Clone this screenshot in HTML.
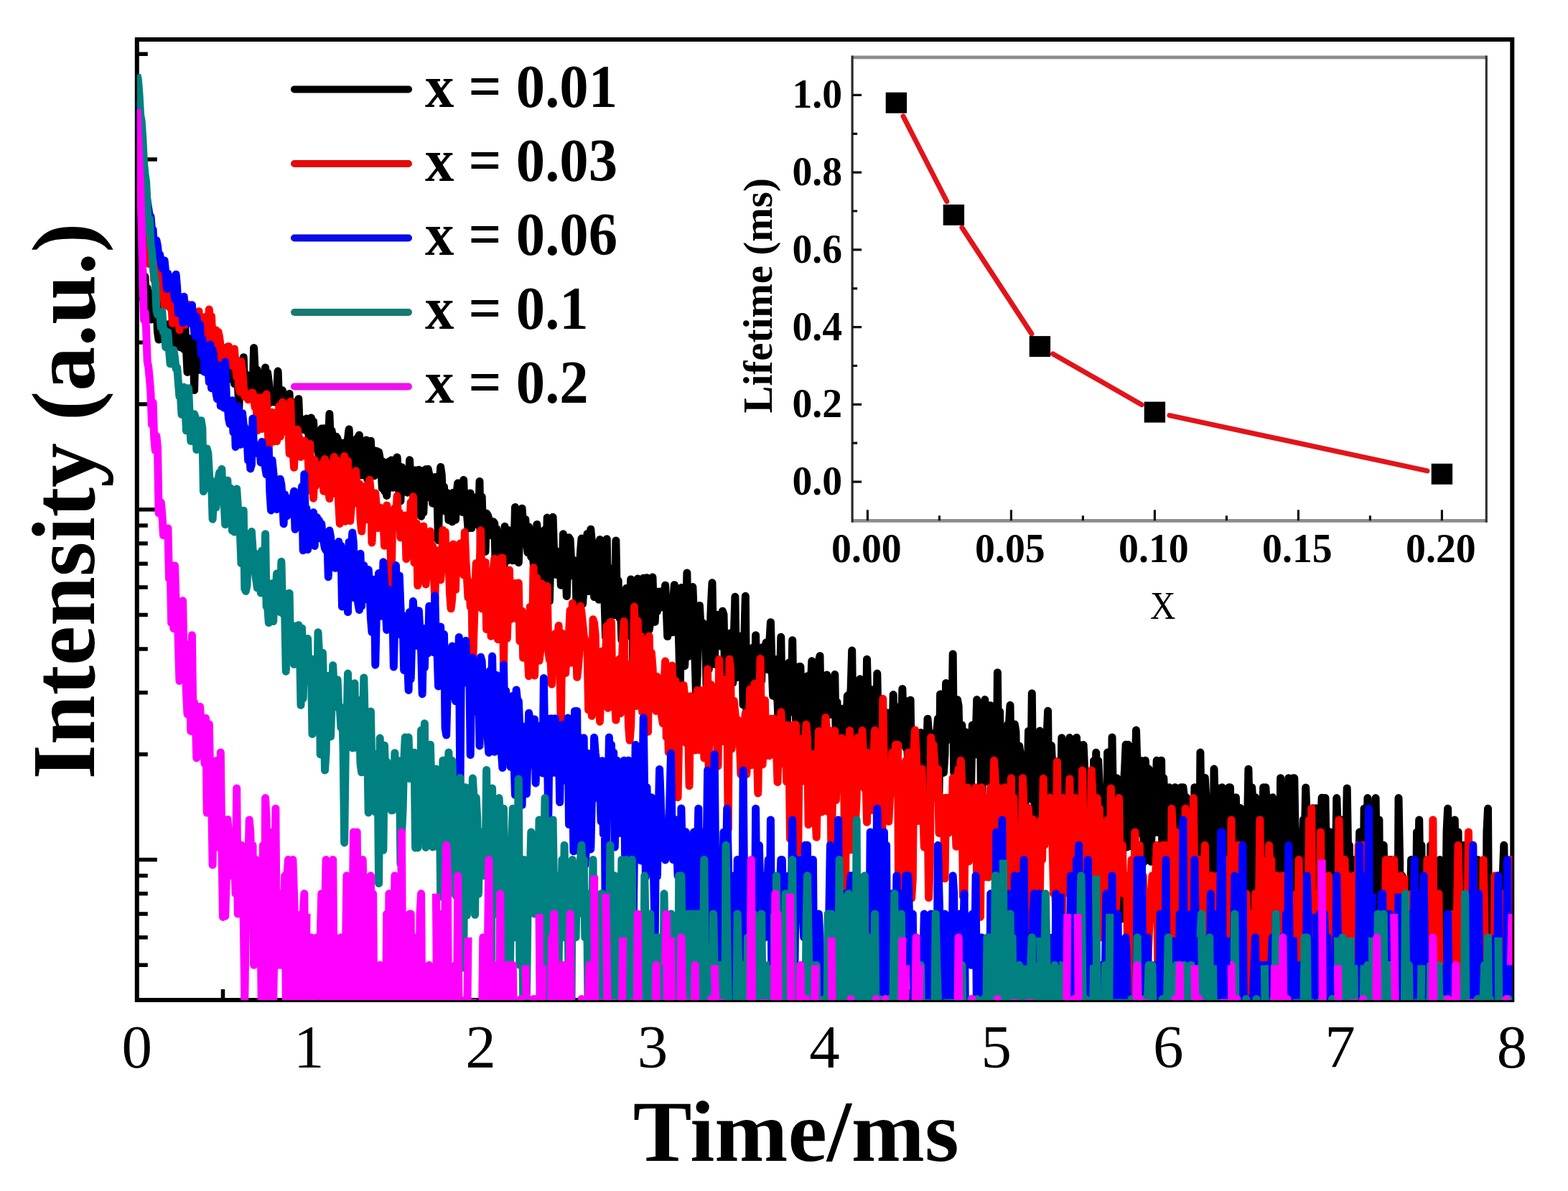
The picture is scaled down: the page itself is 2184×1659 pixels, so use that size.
<!DOCTYPE html>
<html><head><meta charset="utf-8"><title>Decay curves</title>
<style>html,body{margin:0;padding:0;background:#fff;} svg{display:block;}</style>
</head><body>
<svg xmlns="http://www.w3.org/2000/svg" width="2184" height="1659" viewBox="0 0 2184 1659">
<rect x="0" y="0" width="2184" height="1659" fill="#fff"/>
<defs><clipPath id="pc"><rect x="190.8" y="55.0" width="1915.5" height="1338.0"/></clipPath></defs>
<rect x="190.8" y="55.0" width="1915.5" height="1338.0" fill="none" stroke="#000" stroke-width="6"/>
<path d="M190.8 1344.3h15 M190.8 1305.7h15 M190.8 1273.0h15 M190.8 1244.8h15 M190.8 1219.8h15 M190.8 1197.5h28 M190.8 1050.7h15 M190.8 964.8h15 M190.8 903.9h15 M190.8 856.6h15 M190.8 818.0h15 M190.8 785.3h15 M190.8 757.1h15 M190.8 732.1h15 M190.8 709.8h28 M190.8 563.0h15 M190.8 477.1h15 M190.8 416.2h15 M190.8 368.9h15 M190.8 330.3h15 M190.8 297.6h15 M190.8 269.4h15 M190.8 244.4h15 M190.8 222.1h28 M190.8 75.3h15 M310.5 1393.0v-15 M430.2 1393.0v-28 M549.9 1393.0v-15 M669.6 1393.0v-28 M789.3 1393.0v-15 M909.0 1393.0v-28 M1028.7 1393.0v-15 M1148.4 1393.0v-28 M1268.1 1393.0v-15 M1387.8 1393.0v-28 M1507.5 1393.0v-15 M1627.2 1393.0v-28 M1746.9 1393.0v-15 M1866.6 1393.0v-28 M1986.3 1393.0v-15" stroke="#000" stroke-width="5.5" fill="none"/>
<g clip-path="url(#pc)">
<path d="M190.8 243.0L192.4 279.6L194.0 301.4L195.6 360.2L197.2 343.7L198.8 380.1L200.4 397.5L202.0 385.7L203.6 419.3L205.2 401.4L206.8 439.6L208.4 407.8L210.0 445.1L211.5 430.1L213.1 412.9L214.7 421.9L216.3 437.8L217.9 420.6L219.5 462.7L221.1 473.1L222.7 422.9L224.3 450.2L225.9 442.9L227.5 452.5L229.1 450.7L230.7 455.5L232.3 468.0L233.9 452.7L235.5 474.4L237.1 450.7L238.7 454.8L240.3 465.7L241.9 482.1L243.5 483.5L245.1 455.1L246.7 482.2L248.3 470.6L249.9 453.6L251.4 483.9L253.0 471.5L254.6 470.5L256.2 486.6L257.8 455.4L259.4 485.3L261.0 518.4L262.6 475.7L264.2 471.4L265.8 498.2L267.4 491.8L269.0 469.9L270.6 543.5L272.2 478.3L273.8 508.0L275.4 505.1L277.0 489.8L278.6 515.3L280.2 497.6L281.8 516.1L283.4 510.3L285.0 514.9L286.6 491.0L288.2 493.6L289.8 513.7L291.3 511.7L292.9 512.6L294.5 522.2L296.1 509.5L297.7 486.0L299.3 514.1L300.9 497.3L302.5 509.1L304.1 517.7L305.7 497.9L307.3 526.5L308.9 496.8L310.5 518.3L312.1 532.4L313.7 500.1L315.3 518.0L316.9 483.2L318.5 513.0L320.1 527.8L321.7 527.7L323.3 514.6L324.9 506.0L326.5 534.7L328.1 520.3L329.7 533.4L331.2 531.3L332.8 568.2L334.4 526.9L336.0 521.8L337.6 516.7L339.2 497.7L340.8 545.7L342.4 530.6L344.0 522.3L345.6 545.4L347.2 542.1L348.8 537.6L350.4 538.6L352.0 549.5L353.6 484.5L355.2 517.6L356.8 550.2L358.4 515.2L360.0 553.3L361.6 536.4L363.2 527.8L364.8 525.6L366.4 550.3L368.0 557.0L369.6 512.0L371.1 540.8L372.7 519.6L374.3 531.8L375.9 560.8L377.5 547.9L379.1 550.0L380.7 554.4L382.3 560.1L383.9 557.6L385.5 545.8L387.1 517.0L388.7 560.6L390.3 558.0L391.9 546.2L393.5 543.8L395.1 558.7L396.7 560.9L398.3 557.1L399.9 559.3L401.5 564.0L403.1 548.4L404.7 588.1L406.3 567.1L407.9 600.1L409.5 560.4L411.0 568.8L412.6 574.9L414.2 568.3L415.8 555.8L417.4 597.1L419.0 585.7L420.6 584.1L422.2 586.6L423.8 598.9L425.4 588.8L427.0 583.1L428.6 585.5L430.2 609.6L431.8 617.0L433.4 582.0L435.0 622.7L436.6 587.0L438.2 620.7L439.8 603.8L441.4 626.8L443.0 621.8L444.6 641.5L446.2 612.1L447.8 597.1L449.4 639.3L450.9 596.7L452.5 603.9L454.1 649.3L455.7 625.3L457.3 626.7L458.9 576.5L460.5 618.4L462.1 599.9L463.7 613.3L465.3 625.9L466.9 657.1L468.5 608.3L470.1 611.2L471.7 654.9L473.3 694.8L474.9 617.1L476.5 677.7L478.1 616.9L479.7 650.6L481.3 631.3L482.9 634.6L484.5 611.7L486.1 598.0L487.7 635.9L489.3 620.8L490.8 646.2L492.4 651.5L494.0 637.2L495.6 637.0L497.2 610.8L498.8 609.1L500.4 605.9L502.0 645.4L503.6 662.0L505.2 656.2L506.8 614.8L508.4 631.1L510.0 613.0L511.6 667.3L513.2 651.9L514.8 627.3L516.4 614.2L518.0 644.3L519.6 626.9L521.2 662.7L522.8 656.9L524.4 628.3L526.0 649.2L527.6 629.8L529.2 638.3L530.7 649.0L532.3 680.1L533.9 643.3L535.5 684.1L537.1 681.9L538.7 690.4L540.3 669.4L541.9 642.9L543.5 651.9L545.1 640.9L546.7 679.3L548.3 653.5L549.9 646.0L551.5 642.3L553.1 636.9L554.7 658.7L556.3 693.6L557.9 697.9L559.5 650.8L561.1 670.0L562.7 671.9L564.3 684.3L565.9 657.8L567.5 686.2L569.1 681.8L570.6 640.8L572.2 681.5L573.8 677.2L575.4 668.9L577.0 658.9L578.6 654.9L580.2 687.3L581.8 691.6L583.4 654.5L585.0 666.1L586.6 719.3L588.2 656.1L589.8 714.2L591.4 677.9L593.0 653.8L594.6 692.8L596.2 653.5L597.8 661.1L599.4 690.2L601.0 666.9L602.6 701.3L604.2 670.8L605.8 664.6L607.4 678.9L609.0 691.9L610.5 752.4L612.1 674.5L613.7 650.6L615.3 662.1L616.9 705.2L618.5 678.3L620.1 712.3L621.7 712.2L623.3 686.7L624.9 724.5L626.5 724.4L628.1 707.0L629.7 726.8L631.3 686.2L632.9 688.3L634.5 724.0L636.1 686.0L637.7 673.0L639.3 690.2L640.9 679.2L642.5 679.1L644.1 713.4L645.7 668.5L647.3 713.2L648.9 701.1L650.4 715.5L652.0 736.1L653.6 717.7L655.2 686.9L656.8 735.6L658.4 714.6L660.0 704.7L661.6 706.9L663.2 692.7L664.8 729.3L666.4 731.8L668.0 670.4L669.6 778.5L671.2 691.8L672.8 747.7L674.4 730.9L676.0 768.3L677.6 715.0L679.2 717.3L680.8 722.3L682.4 730.0L684.0 738.0L685.6 746.3L687.2 726.8L688.8 729.3L690.3 793.0L691.9 737.1L693.5 751.2L695.1 814.3L696.7 782.1L698.3 765.8L699.9 799.0L701.5 802.5L703.1 733.2L704.7 756.0L706.3 781.3L707.9 738.4L709.5 752.7L711.1 749.7L712.7 767.9L714.3 780.8L715.9 767.7L717.5 706.4L719.1 716.3L720.7 749.1L722.3 783.7L723.9 740.3L725.5 729.1L727.1 708.3L728.7 731.7L730.2 751.5L731.8 723.4L733.4 754.3L735.0 769.7L736.6 733.9L738.2 742.3L739.8 775.9L741.4 763.0L743.0 782.4L744.6 803.5L746.2 789.1L747.8 730.5L749.4 747.4L751.0 788.8L752.6 806.8L754.2 806.6L755.8 774.9L757.4 778.0L759.0 737.9L760.6 787.9L762.2 721.1L763.8 767.5L765.4 837.4L767.0 773.6L768.6 754.5L770.1 720.3L771.7 769.8L773.3 766.4L774.9 800.6L776.5 789.6L778.1 775.7L779.7 769.0L781.3 815.2L782.9 807.2L784.5 743.8L786.1 799.4L787.7 784.9L789.3 830.5L790.9 777.7L792.5 748.8L794.1 751.7L795.7 784.0L797.3 801.9L798.9 780.2L800.5 801.5L802.1 801.4L803.7 880.2L805.3 820.5L806.9 797.2L808.5 769.2L810.0 750.1L811.6 841.3L813.2 815.9L814.8 804.1L816.4 811.8L818.0 743.5L819.6 823.6L821.2 781.9L822.8 737.3L824.4 755.3L826.0 755.2L827.6 831.5L829.2 831.3L830.8 814.7L832.4 818.6L834.0 835.3L835.6 751.4L837.2 826.5L838.8 830.7L840.4 818.1L842.0 834.8L843.6 887.9L845.2 750.7L846.8 847.8L848.4 790.6L849.9 861.8L851.5 829.8L853.1 856.8L854.7 809.1L856.3 856.5L857.9 752.9L859.5 846.9L861.1 808.5L862.7 860.8L864.3 841.9L865.9 891.6L867.5 870.3L869.1 850.6L870.7 836.8L872.3 819.5L873.9 885.4L875.5 827.7L877.1 840.7L878.7 806.9L880.3 827.2L881.9 932.3L883.5 818.5L885.1 831.1L886.7 868.5L888.3 806.0L889.8 883.9L891.4 873.2L893.0 883.6L894.6 843.6L896.2 805.2L897.8 883.1L899.4 843.1L901.0 804.8L902.6 829.4L904.2 877.2L905.8 866.7L907.4 833.4L909.0 804.1L910.6 856.5L912.2 866.3L913.8 833.1L915.4 851.4L917.0 824.2L918.6 846.5L920.2 824.1L921.8 828.3L923.4 832.6L925.0 846.2L926.6 815.3L928.2 846.0L929.7 886.6L931.3 860.3L932.9 881.0L934.5 845.7L936.1 880.8L937.7 836.4L939.3 814.7L940.9 880.6L942.5 864.8L944.1 845.2L945.7 897.2L947.3 963.3L948.9 818.4L950.5 864.4L952.1 849.6L953.7 927.7L955.3 874.5L956.9 797.9L958.5 914.6L960.1 830.8L961.7 896.4L963.3 879.5L964.9 817.6L966.5 858.5L968.1 920.4L969.6 969.9L971.2 940.2L972.8 863.2L974.4 843.6L976.0 873.4L977.6 889.7L979.2 868.0L980.8 873.1L982.4 873.0L984.0 953.8L985.6 883.7L987.2 932.5L988.8 889.1L990.4 842.7L992.0 811.8L993.6 906.4L995.2 925.3L996.8 877.6L998.4 894.3L1000.0 856.6L1001.6 866.7L1003.2 899.9L1004.8 899.8L1006.4 851.3L1008.0 856.2L1009.5 931.2L1011.1 945.0L1012.7 959.6L1014.3 887.5L1015.9 887.4L1017.5 881.7L1019.1 923.8L1020.7 951.5L1022.3 886.9L1023.9 831.3L1025.5 943.9L1027.1 929.8L1028.7 929.7L1030.3 886.3L1031.9 929.5L1033.5 886.1L1035.1 981.8L1036.7 891.6L1038.3 830.3L1039.9 998.8L1041.5 998.6L1043.1 909.1L1044.7 957.0L1046.3 935.1L1047.9 902.6L1049.4 934.9L1051.0 972.1L1052.6 884.7L1054.2 971.9L1055.8 902.0L1057.4 963.6L1059.0 948.4L1060.6 948.2L1062.2 901.5L1063.8 901.4L1065.4 913.6L1067.0 895.1L1068.6 919.7L1070.2 932.9L1071.8 894.6L1073.4 866.7L1075.0 925.6L1076.6 969.3L1078.2 939.0L1079.8 918.5L1081.4 968.7L1083.0 976.6L1084.6 1021.8L1086.2 952.6L1087.8 887.3L1089.3 993.0L1090.9 944.7L1092.5 959.5L1094.1 937.3L1095.7 1020.3L1097.3 983.3L1098.9 923.1L1100.5 982.9L1102.1 991.4L1103.7 891.7L1105.3 982.4L1106.9 943.1L1108.5 999.7L1110.1 1130.2L1111.7 1028.4L1113.3 928.6L1114.9 928.5L1116.5 998.9L1118.1 972.8L1119.7 989.7L1121.3 1038.0L1122.9 998.3L1124.5 941.8L1126.1 972.2L1127.7 980.4L1129.2 956.2L1130.8 920.8L1132.4 997.5L1134.0 1084.2L1135.6 997.3L1137.2 1036.5L1138.8 971.3L1140.4 920.3L1142.0 913.7L1143.6 1015.5L1145.2 996.5L1146.8 979.0L1148.4 1035.5L1150.0 947.4L1151.6 940.1L1153.2 954.7L1154.8 995.8L1156.4 986.9L1158.0 970.0L1159.6 954.3L1161.2 969.8L1162.8 939.5L1164.4 1034.3L1166.0 977.8L1167.6 1045.0L1169.1 986.2L1170.7 1044.9L1172.3 1034.0L1173.9 1023.5L1175.5 1013.5L1177.1 986.0L1178.7 1013.4L1180.3 969.2L1181.9 1044.4L1183.5 969.1L1185.1 961.1L1186.7 906.0L1188.3 1033.3L1189.9 985.6L1191.5 968.9L1193.1 1003.4L1194.7 1055.3L1196.3 1067.1L1197.9 945.8L1199.5 1055.1L1201.1 1032.8L1202.7 1022.4L1204.3 953.0L1205.9 1054.8L1207.5 918.2L1209.0 976.5L1210.6 1092.4L1212.2 1012.2L1213.8 960.4L1215.4 1043.1L1217.0 1066.3L1218.6 984.7L1220.2 1078.7L1221.8 938.1L1223.4 1021.7L1225.0 1042.8L1226.6 1031.9L1228.2 976.0L1229.8 1002.2L1231.4 1120.4L1233.0 1002.1L1234.6 1031.7L1236.2 993.0L1237.8 1042.3L1239.4 992.9L1241.0 1011.4L1242.6 1053.4L1244.2 967.6L1245.8 1021.0L1247.4 984.0L1248.9 1041.9L1250.5 1020.9L1252.1 1031.1L1253.7 1011.0L1255.3 1020.8L1256.9 959.5L1258.5 1031.0L1260.1 975.4L1261.7 1041.7L1263.3 1030.9L1264.9 1064.7L1266.5 992.4L1268.1 975.3L1269.7 1090.3L1271.3 1030.8L1272.9 1090.2L1274.5 1090.2L1276.1 1030.8L1277.7 1090.1L1279.3 1030.7L1280.9 1030.7L1282.5 1020.5L1284.1 1118.8L1285.7 1041.4L1287.3 1052.6L1288.8 1052.6L1290.4 1064.3L1292.0 1001.2L1293.6 1020.4L1295.2 1118.6L1296.8 1076.7L1298.4 1064.2L1300.0 1041.2L1301.6 1041.2L1303.2 1020.2L1304.8 1020.2L1306.4 1001.0L1308.0 1103.6L1309.6 966.9L1311.2 975.0L1312.8 1020.1L1314.4 1076.4L1316.0 1052.2L1317.6 951.5L1319.2 1030.3L1320.8 1020.1L1322.4 1020.0L1324.0 1030.2L1325.6 1030.2L1327.2 910.9L1328.7 1076.2L1330.3 991.8L1331.9 1133.8L1333.5 974.8L1335.1 983.1L1336.7 1051.9L1338.3 1030.1L1339.9 1010.1L1341.5 1133.7L1343.1 1030.0L1344.7 1019.8L1346.3 1089.1L1347.9 1051.8L1349.5 1133.5L1351.1 1117.7L1352.7 1089.0L1354.3 1009.9L1355.9 1019.7L1357.5 1040.5L1359.1 1029.8L1360.7 974.6L1362.3 1051.6L1363.9 1029.8L1365.5 1019.6L1367.1 1168.5L1368.6 1063.3L1370.2 1009.8L1371.8 974.5L1373.4 1019.5L1375.0 1088.6L1376.6 1088.5L1378.2 982.7L1379.8 982.7L1381.4 1009.6L1383.0 991.3L1384.6 1149.5L1386.2 1167.7L1387.8 1116.7L1389.4 936.7L1391.0 1075.0L1392.6 991.1L1394.2 1088.0L1395.8 1087.9L1397.4 1039.7L1399.0 1062.5L1400.6 1167.1L1402.2 1050.7L1403.8 1009.2L1405.4 1009.1L1407.0 982.3L1408.5 1087.5L1410.1 1131.7L1411.7 1074.5L1413.3 1009.0L1414.9 1018.6L1416.5 1101.1L1418.1 1231.8L1419.7 1039.2L1421.3 1050.3L1422.9 1074.2L1424.5 1115.5L1426.1 1074.1L1427.7 1131.1L1429.3 1087.0L1430.9 1100.7L1432.5 1018.3L1434.1 1018.3L1435.7 1100.5L1437.3 965.7L1438.9 1115.1L1440.5 1049.9L1442.1 1230.6L1443.7 1049.8L1445.3 1130.5L1446.9 1073.6L1448.4 1018.1L1450.0 1114.7L1451.6 1061.3L1453.2 1049.6L1454.8 1130.2L1456.4 1146.9L1458.0 1028.0L1459.6 990.3L1461.2 1164.8L1462.8 1073.2L1464.4 1038.4L1466.0 1073.2L1467.6 1099.7L1469.2 1184.1L1470.8 1129.7L1472.4 1060.8L1474.0 1129.6L1475.6 1085.8L1477.2 1129.5L1478.8 1027.7L1480.4 1099.4L1482.0 1113.9L1483.6 1085.7L1485.2 1060.6L1486.8 1072.8L1488.3 1099.2L1489.9 1027.6L1491.5 1085.5L1493.1 1099.0L1494.7 1254.5L1496.3 1048.8L1497.9 1037.9L1499.5 1027.4L1501.1 1085.1L1502.7 1048.7L1504.3 1037.7L1505.9 1145.0L1507.5 1227.2L1509.1 1037.6L1510.7 1072.1L1512.3 1162.6L1513.9 1084.7L1515.5 1282.7L1517.1 1098.2L1518.7 1127.9L1520.3 1181.6L1521.9 1226.2L1523.5 1059.7L1525.1 1127.7L1526.7 1048.3L1528.2 1127.6L1529.8 1059.6L1531.4 1097.8L1533.0 1127.4L1534.6 1281.3L1536.2 1143.7L1537.8 1201.9L1539.4 1180.7L1541.0 1251.2L1542.6 1048.1L1544.2 1180.5L1545.8 1143.5L1547.4 1251.0L1549.0 1026.9L1550.6 1127.0L1552.2 1111.7L1553.8 1127.0L1555.4 1084.0L1557.0 1097.4L1558.6 1143.3L1560.2 1111.6L1561.8 1280.0L1563.4 1201.2L1565.0 1097.3L1566.6 1071.3L1568.1 1037.2L1569.7 1180.0L1571.3 1037.2L1572.9 1083.8L1574.5 1126.7L1576.1 1048.0L1577.7 1179.8L1579.3 1071.2L1580.9 1083.8L1582.5 1017.1L1584.1 1071.2L1585.7 1083.7L1587.3 1160.4L1588.9 1059.2L1590.5 1160.4L1592.1 1126.4L1593.7 1200.4L1595.3 1059.2L1596.9 1083.7L1598.5 1160.3L1600.1 1071.1L1601.7 1097.0L1603.3 1200.2L1604.9 1096.9L1606.5 1083.6L1608.0 1160.1L1609.6 1111.1L1611.2 1059.2L1612.8 1126.2L1614.4 1160.0L1616.0 1111.0L1617.6 1059.2L1619.2 1223.0L1620.8 1083.6L1622.4 1126.1L1624.0 1096.8L1625.6 1126.1L1627.2 1277.9L1628.8 1096.8L1630.4 1142.3L1632.0 1159.8L1633.6 1110.9L1635.2 1126.0L1636.8 1096.8L1638.4 1199.5L1640.0 1178.7L1641.6 1178.6L1643.2 1178.6L1644.8 1096.7L1646.4 1125.9L1647.9 1096.7L1649.5 1110.8L1651.1 1277.2L1652.7 1110.8L1654.3 1178.5L1655.9 1199.3L1657.5 1178.4L1659.1 1178.4L1660.7 1142.0L1662.3 1247.8L1663.9 1096.7L1665.5 1159.4L1667.1 1110.8L1668.7 1110.8L1670.3 1247.7L1671.9 1048.1L1673.5 1178.3L1675.1 1159.3L1676.7 1110.7L1678.3 1083.5L1679.9 1110.7L1681.5 1159.3L1683.1 1199.0L1684.7 1125.7L1686.3 1141.8L1687.8 1178.2L1689.4 1276.4L1691.0 1071.1L1692.6 1141.8L1694.2 1096.7L1695.8 1159.2L1697.4 1198.8L1699.0 1141.8L1700.6 1159.2L1702.2 1096.7L1703.8 1125.7L1705.4 1276.2L1707.0 1178.0L1708.6 1110.7L1710.2 1198.7L1711.8 1096.7L1713.4 1096.7L1715.0 1178.0L1716.6 1247.0L1718.2 1177.9L1719.8 1247.0L1721.4 1110.7L1723.0 1198.6L1724.6 1177.9L1726.2 1246.9L1727.7 1125.6L1729.3 1221.3L1730.9 1159.0L1732.5 1221.3L1734.1 1221.3L1735.7 1177.8L1737.3 1159.0L1738.9 1071.2L1740.5 1141.6L1742.1 1308.9L1743.7 1096.7L1745.3 1125.6L1746.9 1125.6L1748.5 1110.7L1750.1 1141.6L1751.7 1348.1L1753.3 1308.7L1754.9 1125.6L1756.5 1141.6L1758.1 1158.9L1759.7 1096.7L1761.3 1347.9L1762.9 1096.8L1764.5 1125.6L1766.1 1177.6L1767.6 1246.4L1769.2 1275.1L1770.8 1177.6L1772.4 1110.7L1774.0 1125.6L1775.6 1198.1L1777.2 1220.8L1778.8 1177.6L1780.4 1141.6L1782.0 1275.0L1783.6 1083.7L1785.2 1308.1L1786.8 1198.1L1788.4 1198.1L1790.0 1246.1L1791.6 1198.0L1793.2 1158.8L1794.8 1083.8L1796.4 1177.5L1798.0 1177.5L1799.6 1198.0L1801.2 1083.8L1802.8 1083.8L1804.4 1177.5L1806.0 1245.9L1807.5 1307.7L1809.1 1245.9L1810.7 1158.7L1812.3 1245.8L1813.9 1197.9L1815.5 1141.5L1817.1 1177.4L1818.7 1097.0L1820.3 1141.5L1821.9 1177.3L1823.5 1307.1L1825.1 1220.2L1826.7 1453.0L1828.3 1125.7L1829.9 1177.3L1831.5 1245.3L1833.1 1125.8L1834.7 1220.1L1836.3 1245.1L1837.9 1158.7L1839.5 1158.7L1841.1 1111.3L1842.7 1126.0L1844.3 1141.8L1845.9 1111.4L1847.4 1197.5L1849.0 1219.9L1850.6 1158.8L1852.2 1158.8L1853.8 1244.8L1855.4 1197.5L1857.0 1273.0L1858.6 1197.5L1860.2 1219.8L1861.8 1111.6L1863.4 1158.9L1865.0 1158.9L1866.6 1305.7L1868.2 1141.9L1869.8 1244.8L1871.4 1197.5L1873.0 1141.9L1874.6 1197.5L1876.2 1098.0L1877.8 1197.5L1879.4 1177.3L1881.0 1305.7L1882.6 1197.5L1884.2 1219.8L1885.8 1391.6L1887.3 1197.5L1888.9 1197.5L1890.5 1273.0L1892.1 1244.8L1893.7 1158.9L1895.3 1244.8L1896.9 1305.7L1898.5 1305.7L1900.1 1126.2L1901.7 1219.8L1903.3 1244.8L1904.9 1111.6L1906.5 1177.3L1908.1 1273.0L1909.7 1273.0L1911.3 1158.9L1912.9 1273.0L1914.5 1452.5L1916.1 1111.6L1917.7 1219.8L1919.3 1344.3L1920.9 1141.9L1922.5 1344.3L1924.1 1391.6L1925.7 1244.8L1927.2 1177.3L1928.8 1273.0L1930.4 1344.3L1932.0 1305.7L1933.6 1305.7L1935.2 1344.3L1936.8 1197.5L1938.4 1391.6L1940.0 1244.8L1941.6 1273.0L1943.2 1453.0L1944.8 1344.3L1946.4 1391.6L1948.0 1111.6L1949.6 1197.5L1951.2 1453.0L1952.8 1219.8L1954.4 1244.8L1956.0 1273.0L1957.6 1305.7L1959.2 1273.0L1960.8 1344.3L1962.4 1344.3L1964.0 1273.0L1965.6 1197.5L1967.1 1273.0L1968.7 1273.0L1970.3 1344.3L1971.9 1305.7L1973.5 1158.9L1975.1 1219.8L1976.7 1141.9L1978.3 1244.8L1979.9 1177.3L1981.5 1391.6L1983.1 1197.5L1984.7 1305.7L1986.3 1453.0L1987.9 1219.8L1989.5 1305.7L1991.1 1453.0L1992.7 1177.3L1994.3 1177.3L1995.9 1453.0L1997.5 1305.7L1999.1 1244.8L2000.7 1344.3L2002.3 1273.0L2003.9 1344.3L2005.5 1197.5L2007.0 1219.8L2008.6 1273.0L2010.2 1344.3L2011.8 1344.3L2013.4 1305.7L2015.0 1158.9L2016.6 1126.2L2018.2 1344.3L2019.8 1244.8L2021.4 1197.5L2023.0 1452.5L2024.6 1452.5L2026.2 1141.9L2027.8 1219.8L2029.4 1219.8L2031.0 1158.9L2032.6 1305.7L2034.2 1305.7L2035.8 1273.0L2037.4 1305.7L2039.0 1177.3L2040.6 1244.8L2042.2 1305.7L2043.8 1177.3L2045.4 1391.6L2046.9 1452.5L2048.5 1305.7L2050.1 1177.3L2051.7 1344.3L2053.3 1219.8L2054.9 1273.0L2056.5 1452.5L2058.1 1197.5L2059.7 1453.0L2061.3 1453.0L2062.9 1305.7L2064.5 1244.8L2066.1 1453.0L2067.7 1453.0L2069.3 1344.3L2070.9 1158.9L2072.5 1126.2L2074.1 1391.6L2075.7 1305.7L2077.3 1273.0L2078.9 1305.7L2080.5 1453.0L2082.1 1452.5L2083.7 1391.6L2085.3 1244.8L2086.8 1391.6L2088.4 1219.8L2090.0 1244.8L2091.6 1344.3L2093.2 1219.8L2094.8 1177.3L2096.4 1273.0L2098.0 1344.3L2099.6 1453.0L2101.2 1244.8L2102.8 1244.8L2104.4 1305.7L2106.0 1273.0" stroke="#000000" stroke-width="11" fill="none" stroke-linejoin="round" stroke-linecap="butt"/>
<path d="M190.8 254.4L192.4 283.5L194.0 270.7L195.6 273.5L197.2 283.6L198.8 311.8L200.4 334.5L202.0 324.6L203.6 333.8L205.2 337.6L206.8 359.4L208.4 367.6L210.0 352.9L211.5 362.3L213.1 359.2L214.7 390.0L216.3 370.4L217.9 391.6L219.5 377.4L221.1 414.4L222.7 376.9L224.3 410.4L225.9 405.2L227.5 387.4L229.1 425.9L230.7 406.0L232.3 401.4L233.9 423.1L235.5 411.5L237.1 429.0L238.7 419.6L240.3 450.3L241.9 429.0L243.5 407.8L245.1 435.4L246.7 442.7L248.3 431.8L249.9 459.6L251.4 444.4L253.0 440.2L254.6 449.1L256.2 429.9L257.8 452.4L259.4 448.7L261.0 423.7L262.6 438.1L264.2 439.4L265.8 448.3L267.4 429.8L269.0 438.3L270.6 441.6L272.2 441.5L273.8 465.3L275.4 451.9L277.0 433.7L278.6 461.1L280.2 445.7L281.8 449.0L283.4 461.9L285.0 467.0L286.6 441.2L288.2 485.8L289.8 468.6L291.3 431.0L292.9 462.8L294.5 440.7L296.1 473.2L297.7 483.5L299.3 484.9L300.9 460.0L302.5 479.5L304.1 462.6L305.7 470.2L307.3 483.7L308.9 501.8L310.5 511.6L312.1 498.6L313.7 487.0L315.3 498.1L316.9 487.2L318.5 482.5L320.1 508.6L321.7 509.1L323.3 498.4L324.9 491.7L326.5 486.0L328.1 509.9L329.7 525.2L331.2 502.4L332.8 539.9L334.4 546.0L336.0 503.8L337.6 516.8L339.2 537.0L340.8 552.2L342.4 548.3L344.0 552.5L345.6 556.7L347.2 555.1L348.8 555.8L350.4 547.3L352.0 546.9L353.6 555.7L355.2 567.4L356.8 553.7L358.4 599.8L360.0 556.4L361.6 563.5L363.2 553.7L364.8 597.4L366.4 573.0L368.0 595.7L369.6 560.2L371.1 549.3L372.7 588.3L374.3 625.0L375.9 583.9L377.5 601.9L379.1 574.3L380.7 615.0L382.3 584.6L383.9 577.8L385.5 614.5L387.1 602.4L388.7 565.7L390.3 608.0L391.9 586.4L393.5 560.3L395.1 593.0L396.7 571.3L398.3 581.7L399.9 602.6L401.5 580.0L403.1 631.9L404.7 559.2L406.3 618.4L407.9 624.4L409.5 651.3L411.0 612.5L412.6 609.0L414.2 598.2L415.8 606.7L417.4 612.4L419.0 636.5L420.6 624.3L422.2 615.9L423.8 613.9L425.4 629.7L427.0 622.7L428.6 619.0L430.2 664.6L431.8 618.2L433.4 684.1L435.0 651.9L436.6 694.2L438.2 640.6L439.8 676.8L441.4 670.6L443.0 664.5L444.6 649.1L446.2 650.8L447.8 654.4L449.4 645.0L450.9 684.3L452.5 639.4L454.1 667.5L455.7 677.6L457.3 679.5L458.9 694.5L460.5 645.9L462.1 687.7L463.7 687.5L465.3 636.6L466.9 652.8L468.5 649.0L470.1 641.5L471.7 700.3L473.3 729.4L474.9 684.4L476.5 650.2L478.1 663.5L479.7 635.4L481.3 726.2L482.9 649.6L484.5 642.1L486.1 699.1L487.7 725.6L489.3 705.8L490.8 685.2L492.4 687.3L494.0 700.7L495.6 656.1L497.2 680.4L498.8 682.4L500.4 673.8L502.0 721.8L503.6 740.1L505.2 716.5L506.8 701.9L508.4 677.3L510.0 723.7L511.6 692.3L513.2 679.0L514.8 668.4L516.4 685.2L518.0 755.9L519.6 715.3L521.2 687.0L522.8 686.9L524.4 707.5L526.0 735.5L527.6 712.1L529.2 707.1L530.7 735.1L532.3 711.7L533.9 721.6L535.5 760.3L537.1 742.8L538.7 703.9L540.3 721.0L541.9 710.9L543.5 736.6L545.1 813.1L546.7 717.9L548.3 712.8L549.9 707.6L551.5 727.7L553.1 690.7L554.7 735.3L556.3 714.1L557.9 748.9L559.5 737.4L561.1 734.4L562.7 731.4L564.3 718.0L565.9 778.6L567.5 741.8L569.1 759.2L570.6 741.3L572.2 699.5L573.8 709.1L575.4 692.0L577.0 783.7L578.6 767.1L580.2 728.9L581.8 815.5L583.4 736.6L585.0 796.4L586.6 747.6L588.2 747.4L589.8 732.9L591.4 774.9L593.0 813.9L594.6 795.0L596.2 761.4L597.8 780.6L599.4 740.0L601.0 797.7L602.6 760.6L604.2 793.8L605.8 836.7L607.4 766.5L609.0 772.8L610.5 804.2L612.1 782.6L613.7 807.7L615.3 785.7L616.9 738.3L618.5 765.4L620.1 740.9L621.7 788.7L623.3 785.0L624.9 778.0L626.5 826.3L628.1 847.8L629.7 834.4L631.3 757.9L632.9 817.6L634.5 821.5L636.1 763.8L637.7 776.8L639.3 783.5L640.9 757.0L642.5 776.4L644.1 763.0L645.7 801.0L647.3 741.3L648.9 782.6L650.4 804.3L652.0 832.4L653.6 811.7L655.2 845.2L656.8 811.3L658.4 930.4L660.0 878.4L661.6 827.0L663.2 784.6L664.8 810.4L666.4 810.3L668.0 794.8L669.6 738.8L671.2 847.9L672.8 790.6L674.4 790.5L676.0 783.1L677.6 876.5L679.2 804.9L680.8 876.1L682.4 800.7L684.0 886.3L685.6 875.6L687.2 792.7L688.8 778.2L690.3 819.6L691.9 869.7L693.5 890.7L695.1 874.5L696.7 859.2L698.3 777.1L699.9 776.9L701.5 932.0L703.1 810.1L704.7 863.3L706.3 889.3L707.9 843.8L709.5 793.9L711.1 862.6L712.7 843.3L714.3 825.4L715.9 812.7L717.5 812.6L719.1 861.7L720.7 833.4L722.3 812.1L723.9 893.0L725.5 861.1L727.1 851.1L728.7 916.3L730.2 881.3L731.8 886.6L733.4 855.3L735.0 909.5L736.6 941.8L738.2 845.2L739.8 874.9L741.4 891.2L743.0 790.4L744.6 941.0L746.2 879.6L747.8 805.3L749.4 826.0L751.0 920.3L752.6 907.6L754.2 812.8L755.8 878.6L757.4 884.0L759.0 901.1L760.6 852.6L762.2 816.4L763.8 906.7L765.4 919.1L767.0 919.0L768.6 953.2L770.1 900.2L771.7 925.1L773.3 882.8L774.9 931.6L776.5 893.9L778.1 871.6L779.7 924.5L781.3 1010.4L782.9 882.1L784.5 905.2L786.1 917.6L787.7 937.5L789.3 911.0L790.9 904.7L792.5 881.4L794.1 850.1L795.7 923.3L797.3 840.3L798.9 898.1L800.5 892.1L802.1 864.6L803.7 943.3L805.3 929.3L806.9 909.6L808.5 844.2L810.0 853.9L811.6 869.1L813.2 885.4L814.8 891.0L816.4 902.7L818.0 896.6L819.6 988.9L821.2 956.4L822.8 927.7L824.4 997.3L826.0 862.8L827.6 867.9L829.2 884.2L830.8 955.5L832.4 913.8L834.0 933.6L835.6 1005.2L837.2 933.3L838.8 907.0L840.4 954.6L842.0 978.2L843.6 912.9L845.2 872.1L846.8 986.3L848.4 882.8L849.9 866.5L851.5 866.4L853.1 977.2L854.7 931.9L856.3 976.9L857.9 1003.1L859.5 985.2L861.1 938.5L862.7 918.1L864.3 993.6L865.9 931.3L867.5 893.2L869.1 865.6L870.7 967.9L872.3 924.2L873.9 944.9L875.5 1011.3L877.1 1031.2L878.7 1011.1L880.3 944.6L881.9 975.4L883.5 845.1L885.1 937.2L886.7 983.5L888.3 864.8L889.8 966.9L891.4 886.4L893.0 886.4L894.6 991.7L896.2 903.9L897.8 936.6L899.4 951.0L901.0 1009.7L902.6 1019.3L904.2 886.0L905.8 950.6L907.4 909.6L909.0 929.1L910.6 973.7L912.2 942.8L913.8 990.4L915.4 942.6L917.0 973.1L918.6 981.3L920.2 981.1L921.8 998.5L923.4 1007.7L925.0 956.6L926.6 921.1L928.2 1026.9L929.7 997.8L931.3 1048.1L932.9 963.7L934.5 997.3L936.1 927.1L937.7 1058.9L939.3 1025.8L940.9 947.9L942.5 987.8L944.1 1110.7L945.7 1025.2L947.3 954.9L948.9 1005.3L950.5 987.1L952.1 954.6L953.7 970.1L955.3 1034.7L956.9 1004.7L958.5 1004.5L960.1 1094.7L961.7 969.7L963.3 1023.9L964.9 977.9L966.5 1023.8L968.1 1045.0L969.6 1023.7L971.2 961.6L972.8 1013.7L974.4 1044.8L976.0 961.4L977.6 1044.7L979.2 961.4L980.8 1056.0L982.4 1013.4L984.0 1013.3L985.6 932.0L987.2 1080.3L988.8 1003.7L990.4 953.5L992.0 1033.4L993.6 994.4L995.2 1022.9L996.8 1012.9L998.4 994.3L1000.0 1067.2L1001.6 918.4L1003.2 994.1L1004.8 1032.9L1006.4 945.7L1008.0 985.2L1009.5 1022.5L1011.1 1012.5L1012.7 993.9L1014.3 1154.9L1015.9 918.2L1017.5 931.5L1019.1 1043.3L1020.7 1022.1L1022.3 976.4L1023.9 993.6L1025.5 1022.0L1027.1 1002.6L1028.7 1032.2L1030.3 1032.2L1031.9 1078.7L1033.5 1042.9L1035.1 1032.0L1036.7 1011.8L1038.3 993.3L1039.9 1078.4L1041.5 1021.6L1043.1 1011.7L1044.7 960.0L1046.3 1065.7L1047.9 1031.7L1049.4 967.7L1051.0 952.3L1052.6 1031.5L1054.2 1042.2L1055.8 1104.9L1057.4 1011.2L1059.0 917.6L1060.6 1020.9L1062.2 1064.9L1063.8 992.5L1065.4 975.4L1067.0 1052.9L1068.6 1010.8L1070.2 1020.6L1071.8 1052.7L1073.4 1001.3L1075.0 1020.4L1076.6 1041.3L1078.2 1001.1L1079.8 1030.4L1081.4 1041.1L1083.0 1089.5L1084.6 1030.3L1086.2 1052.1L1087.8 991.8L1089.3 1019.9L1090.9 1063.7L1092.5 1010.0L1094.1 1029.9L1095.7 1088.9L1097.3 1009.9L1098.9 1040.4L1100.5 1168.4L1102.1 1040.3L1103.7 1019.4L1105.3 1009.7L1106.9 1075.4L1108.5 1009.6L1110.1 1187.7L1111.7 1187.6L1113.3 1029.3L1114.9 1029.3L1116.5 1039.8L1118.1 1074.9L1119.7 1087.9L1121.3 1039.7L1122.9 1009.2L1124.5 1029.0L1126.1 1148.7L1127.7 1062.3L1129.2 1074.5L1130.8 1101.2L1132.4 1050.4L1134.0 1087.3L1135.6 1131.4L1137.2 1166.3L1138.8 1087.1L1140.4 1018.5L1142.0 1087.0L1143.6 1050.1L1145.2 1130.9L1146.8 1100.6L1148.4 1028.4L1150.0 999.4L1151.6 1018.2L1153.2 1130.6L1154.8 1038.8L1156.4 1018.1L1158.0 1206.5L1159.6 1100.1L1161.2 1038.6L1162.8 1018.0L1164.4 1114.6L1166.0 1061.1L1167.6 1099.9L1169.1 1049.5L1170.7 1086.1L1172.3 1027.9L1173.9 1060.9L1175.5 1038.3L1177.1 1320.6L1178.7 1049.3L1180.3 1073.0L1181.9 1085.8L1183.5 1017.7L1185.1 1183.7L1186.7 1129.3L1188.3 1145.9L1189.9 1113.7L1191.5 1145.8L1193.1 1113.6L1194.7 1027.5L1196.3 1027.5L1197.9 1060.4L1199.5 1048.9L1201.1 1017.5L1202.7 1060.3L1204.3 1098.8L1205.9 1085.2L1207.5 1145.3L1209.0 1048.7L1210.6 1098.6L1212.2 1085.0L1213.8 1128.5L1215.4 1072.2L1217.0 1048.6L1218.6 1017.3L1220.2 1060.0L1221.8 1182.1L1223.4 1072.0L1225.0 1098.3L1226.6 1037.6L1228.2 1282.7L1229.8 973.3L1231.4 1071.9L1233.0 1112.5L1234.6 1071.8L1236.2 1127.8L1237.8 1144.3L1239.4 1112.4L1241.0 1098.0L1242.6 1048.3L1244.2 1084.4L1245.8 1071.7L1247.4 1037.4L1248.9 1071.6L1250.5 1037.3L1252.1 1356.2L1253.7 1084.3L1255.3 1127.4L1256.9 1112.0L1258.5 1097.7L1260.1 1112.0L1261.7 1059.5L1263.3 1281.0L1264.9 1048.1L1266.5 1084.1L1268.1 1111.9L1269.7 1251.2L1271.3 1225.0L1272.9 1048.1L1274.5 1017.1L1276.1 1048.1L1277.7 1084.0L1279.3 1143.4L1280.9 1084.0L1282.5 1084.0L1284.1 1071.3L1285.7 1126.9L1287.3 1180.2L1288.8 1143.3L1290.4 1126.8L1292.0 1126.8L1293.6 1250.5L1295.2 1201.1L1296.8 1026.9L1298.4 1111.5L1300.0 1037.2L1301.6 1059.3L1303.2 1111.4L1304.8 1111.4L1306.4 1071.2L1308.0 1160.6L1309.6 1126.6L1311.2 1142.9L1312.8 1111.3L1314.4 1126.5L1316.0 1223.8L1317.6 1111.3L1319.2 1111.3L1320.8 1160.4L1322.4 1142.7L1324.0 1111.2L1325.6 1142.7L1327.2 1083.7L1328.7 1083.7L1330.3 1126.3L1331.9 1179.3L1333.5 1083.6L1335.1 1071.1L1336.7 1142.6L1338.3 1059.2L1339.9 1096.9L1341.5 1249.1L1343.1 1249.0L1344.7 1111.1L1346.3 1142.4L1347.9 1096.9L1349.5 1199.9L1351.1 1126.1L1352.7 1126.1L1354.3 1111.0L1355.9 1142.3L1357.5 1178.8L1359.1 1096.8L1360.7 1222.6L1362.3 1178.6L1363.9 1110.8L1365.5 1277.3L1367.1 1096.7L1368.6 1222.3L1370.2 1222.2L1371.8 1110.8L1373.4 1142.0L1375.0 1159.4L1376.6 1222.0L1378.2 1141.9L1379.8 1096.7L1381.4 1159.2L1383.0 1125.7L1384.6 1059.3L1386.2 1083.5L1387.8 1309.6L1389.4 1096.7L1391.0 1221.5L1392.6 1125.6L1394.2 1177.9L1395.8 1198.5L1397.4 1177.8L1399.0 1096.7L1400.6 1246.7L1402.2 1141.6L1403.8 1096.7L1405.4 1198.3L1407.0 1198.3L1408.5 1083.7L1410.1 1246.4L1411.7 1110.7L1413.3 1177.6L1414.9 1220.8L1416.5 1177.6L1418.1 1158.8L1419.7 1308.0L1421.3 1220.7L1422.9 1220.7L1424.5 1083.8L1426.1 1125.6L1427.7 1220.5L1429.3 1197.9L1430.9 1177.4L1432.5 1125.6L1434.1 1220.4L1435.7 1346.4L1437.3 1197.8L1438.9 1141.5L1440.5 1307.1L1442.1 1346.1L1443.7 1220.3L1445.3 1345.9L1446.9 1158.7L1448.4 1245.4L1450.0 1141.6L1451.6 1197.6L1453.2 1084.3L1454.8 1177.3L1456.4 1125.8L1458.0 1158.7L1459.6 1158.7L1461.2 1158.7L1462.8 1111.1L1464.4 1158.7L1466.0 1177.3L1467.6 1245.1L1469.2 1220.0L1470.8 1273.5L1472.4 1060.9L1474.0 1197.5L1475.6 1177.3L1477.2 1141.7L1478.8 1345.0L1480.4 1111.3L1482.0 1245.0L1483.6 1219.9L1485.2 1219.9L1486.8 1197.5L1488.3 1141.8L1489.9 1084.9L1491.5 1244.9L1493.1 1141.8L1494.7 1344.5L1496.3 1141.9L1497.9 1111.5L1499.5 1126.2L1501.1 1126.2L1502.7 1391.6L1504.3 1177.3L1505.9 1305.7L1507.5 1073.0L1509.1 1158.9L1510.7 1158.9L1512.3 1244.8L1513.9 1197.5L1515.5 1273.0L1517.1 1177.3L1518.7 1197.5L1520.3 1073.0L1521.9 1111.6L1523.5 1273.0L1525.1 1111.6L1526.7 1305.7L1528.2 1111.6L1529.8 1244.8L1531.4 1126.2L1533.0 1305.7L1534.6 1219.8L1536.2 1158.9L1537.8 1177.3L1539.4 1197.5L1541.0 1305.7L1542.6 1141.9L1544.2 1244.8L1545.8 1344.3L1547.4 1098.0L1549.0 1273.0L1550.6 1219.8L1552.2 1244.8L1553.8 1273.0L1555.4 1244.8L1557.0 1158.9L1558.6 1111.6L1560.2 1219.8L1561.8 1177.3L1563.4 1177.3L1565.0 1244.8L1566.6 1219.8L1568.1 1219.8L1569.7 1219.8L1571.3 1452.5L1572.9 1305.7L1574.5 1273.0L1576.1 1197.5L1577.7 1219.8L1579.3 1273.0L1580.9 1158.9L1582.5 1219.8L1584.1 1177.3L1585.7 1177.3L1587.3 1177.3L1588.9 1344.3L1590.5 1344.3L1592.1 1219.8L1593.7 1273.0L1595.3 1305.7L1596.9 1273.0L1598.5 1344.3L1600.1 1305.7L1601.7 1273.0L1603.3 1244.8L1604.9 1219.8L1606.5 1219.8L1608.0 1244.8L1609.6 1219.8L1611.2 1177.3L1612.8 1344.3L1614.4 1273.0L1616.0 1244.8L1617.6 1273.0L1619.2 1177.3L1620.8 1177.3L1622.4 1244.8L1624.0 1177.3L1625.6 1273.0L1627.2 1273.0L1628.8 1219.8L1630.4 1344.3L1632.0 1126.2L1633.6 1158.9L1635.2 1305.7L1636.8 1197.5L1638.4 1158.9L1640.0 1305.7L1641.6 1453.0L1643.2 1391.6L1644.8 1219.8L1646.4 1244.8L1647.9 1391.6L1649.5 1344.3L1651.1 1126.2L1652.7 1305.7L1654.3 1141.9L1655.9 1141.9L1657.5 1219.8L1659.1 1244.8L1660.7 1344.3L1662.3 1111.6L1663.9 1244.8L1665.5 1197.5L1667.1 1344.3L1668.7 1244.8L1670.3 1219.8L1671.9 1197.5L1673.5 1391.6L1675.1 1244.8L1676.7 1305.7L1678.3 1177.3L1679.9 1273.0L1681.5 1344.3L1683.1 1305.7L1684.7 1273.0L1686.3 1244.8L1687.8 1219.8L1689.4 1244.8L1691.0 1273.0L1692.6 1244.8L1694.2 1391.6L1695.8 1219.8L1697.4 1273.0L1699.0 1344.3L1700.6 1273.0L1702.2 1391.6L1703.8 1305.7L1705.4 1244.8L1707.0 1219.8L1708.6 1197.5L1710.2 1391.6L1711.8 1391.6L1713.4 1453.0L1715.0 1141.9L1716.6 1391.6L1718.2 1244.8L1719.8 1219.8L1721.4 1344.3L1723.0 1219.8L1724.6 1177.3L1726.2 1197.5L1727.7 1391.6L1729.3 1305.7L1730.9 1391.6L1732.5 1391.6L1734.1 1244.8L1735.7 1244.8L1737.3 1305.7L1738.9 1273.0L1740.5 1452.5L1742.1 1344.3L1743.7 1273.0L1745.3 1273.0L1746.9 1391.6L1748.5 1244.8L1750.1 1305.7L1751.7 1344.3L1753.3 1273.0L1754.9 1141.9L1756.5 1344.3L1758.1 1197.5L1759.7 1452.5L1761.3 1453.0L1762.9 1344.3L1764.5 1244.8L1766.1 1453.0L1767.6 1177.3L1769.2 1244.8L1770.8 1197.5L1772.4 1391.6L1774.0 1305.7L1775.6 1219.8L1777.2 1305.7L1778.8 1219.8L1780.4 1344.3L1782.0 1391.6L1783.6 1273.0L1785.2 1305.7L1786.8 1219.8L1788.4 1305.7L1790.0 1344.3L1791.6 1344.3L1793.2 1391.6L1794.8 1197.5L1796.4 1452.5L1798.0 1273.0L1799.6 1344.3L1801.2 1305.7L1802.8 1344.3L1804.4 1305.7L1806.0 1244.8L1807.5 1391.6L1809.1 1197.5L1810.7 1344.3L1812.3 1244.8L1813.9 1273.0L1815.5 1453.0L1817.1 1273.0L1818.7 1344.3L1820.3 1273.0L1821.9 1305.7L1823.5 1141.9L1825.1 1453.0L1826.7 1126.2L1828.3 1391.6L1829.9 1391.6L1831.5 1244.8L1833.1 1344.3L1834.7 1452.5L1836.3 1305.7L1837.9 1452.5L1839.5 1158.9L1841.1 1391.6L1842.7 1344.3L1844.3 1452.5L1845.9 1244.8L1847.4 1391.6L1849.0 1244.8L1850.6 1219.8L1852.2 1273.0L1853.8 1344.3L1855.4 1305.7L1857.0 1391.6L1858.6 1452.5L1860.2 1344.3L1861.8 1273.0L1863.4 1344.3L1865.0 1141.9L1866.6 1219.8L1868.2 1452.5L1869.8 1391.6L1871.4 1391.6L1873.0 1197.5L1874.6 1305.7L1876.2 1344.3L1877.8 1219.8L1879.4 1452.5L1881.0 1244.8L1882.6 1273.0L1884.2 1305.7L1885.8 1219.8L1887.3 1344.3L1888.9 1219.8L1890.5 1344.3L1892.1 1177.3L1893.7 1197.5L1895.3 1177.3L1896.9 1197.5L1898.5 1177.3L1900.1 1391.6L1901.7 1453.0L1903.3 1273.0L1904.9 1391.6L1906.5 1344.3L1908.1 1344.3L1909.7 1452.5L1911.3 1344.3L1912.9 1273.0L1914.5 1391.6L1916.1 1305.7L1917.7 1344.3L1919.3 1391.6L1920.9 1391.6L1922.5 1453.0L1924.1 1391.6L1925.7 1452.5L1927.2 1453.0L1928.8 1305.7L1930.4 1197.5L1932.0 1453.0L1933.6 1197.5L1935.2 1453.0L1936.8 1452.5L1938.4 1452.5L1940.0 1391.6L1941.6 1197.5L1943.2 1344.3L1944.8 1391.6L1946.4 1452.5L1948.0 1391.6L1949.6 1344.3L1951.2 1219.8L1952.8 1305.7L1954.4 1344.3L1956.0 1219.8M1959.2 1391.6L1960.8 1344.3L1962.4 1273.0L1964.0 1391.6L1965.6 1244.8L1967.1 1391.6L1968.7 1344.3L1970.3 1453.0L1971.9 1244.8L1973.5 1344.3L1975.1 1453.0L1976.7 1452.5L1978.3 1452.5L1979.9 1391.6L1981.5 1344.3L1983.1 1305.7L1984.7 1244.8L1986.3 1344.3L1987.9 1197.5L1989.5 1344.3L1991.1 1391.6L1992.7 1391.6L1994.3 1453.0L1995.9 1141.9L1997.5 1453.0L1999.1 1453.0L2000.7 1305.7L2002.3 1344.3L2003.9 1244.8L2005.5 1453.0L2007.0 1344.3L2008.6 1452.5L2010.2 1453.0L2011.8 1391.6L2013.4 1453.0L2015.0 1452.5L2016.6 1391.6L2018.2 1453.0L2019.8 1344.3L2021.4 1391.6L2023.0 1452.5L2024.6 1273.0L2026.2 1453.0L2027.8 1452.5L2029.4 1273.0L2031.0 1177.3L2032.6 1244.8L2034.2 1391.6L2035.8 1305.7L2037.4 1344.3L2039.0 1453.0L2040.6 1344.3L2042.2 1244.8L2043.8 1305.7L2045.4 1158.9L2046.9 1344.3L2048.5 1453.0L2050.1 1219.8L2051.7 1177.3L2053.3 1344.3L2054.9 1273.0L2056.5 1344.3L2058.1 1244.8L2059.7 1391.6L2061.3 1452.5L2062.9 1452.5L2064.5 1453.0L2066.1 1197.5L2067.7 1273.0L2069.3 1452.5L2070.9 1344.3L2072.5 1391.6L2074.1 1453.0L2075.7 1305.7L2077.3 1452.5L2078.9 1453.0L2080.5 1452.5L2082.1 1219.8L2083.7 1391.6L2085.3 1219.8L2086.8 1452.5L2088.4 1452.5L2090.0 1244.8L2091.6 1244.8L2093.2 1453.0L2094.8 1391.6L2096.4 1453.0L2098.0 1452.5L2099.6 1344.3L2101.2 1344.3L2102.8 1453.0L2104.4 1197.5L2106.0 1453.0" stroke="#ff0000" stroke-width="11" fill="none" stroke-linejoin="round" stroke-linecap="butt"/>
<path d="M190.8 142.4L192.4 157.8L194.0 178.2L195.6 185.9L197.2 194.8L198.8 220.0L200.4 244.9L202.0 266.3L203.6 265.7L205.2 281.2L206.8 291.0L208.4 301.6L210.0 301.6L211.5 320.5L213.1 319.8L214.7 353.2L216.3 334.1L217.9 334.7L219.5 342.6L221.1 358.0L222.7 354.5L224.3 366.2L225.9 373.5L227.5 375.1L229.1 362.9L230.7 379.2L232.3 402.3L233.9 381.3L235.5 393.6L237.1 391.0L238.7 394.9L240.3 401.6L241.9 404.6L243.5 417.1L245.1 382.2L246.7 400.9L248.3 436.5L249.9 420.1L251.4 426.5L253.0 414.2L254.6 449.6L256.2 413.3L257.8 438.3L259.4 444.7L261.0 442.1L262.6 441.6L264.2 450.2L265.8 431.9L267.4 424.8L269.0 441.0L270.6 462.9L272.2 468.6L273.8 441.6L275.4 458.4L277.0 461.7L278.6 452.3L280.2 493.2L281.8 471.9L283.4 482.8L285.0 518.3L286.6 481.9L288.2 496.9L289.8 507.3L291.3 532.3L292.9 480.0L294.5 540.8L296.1 487.5L297.7 501.2L299.3 522.5L300.9 547.2L302.5 555.6L304.1 508.8L305.7 530.1L307.3 565.4L308.9 523.6L310.5 534.5L312.1 568.3L313.7 503.9L315.3 552.6L316.9 563.0L318.5 582.9L320.1 590.6L321.7 563.1L323.3 557.8L324.9 602.1L326.5 566.9L328.1 622.4L329.7 573.7L331.2 565.7L332.8 579.5L334.4 619.3L336.0 618.9L337.6 575.7L339.2 591.5L340.8 595.4L342.4 614.3L344.0 609.3L345.6 641.2L347.2 625.8L348.8 652.9L350.4 647.1L352.0 582.9L353.6 627.5L355.2 619.0L356.8 628.4L358.4 631.4L360.0 631.0L361.6 620.8L363.2 644.2L364.8 615.4L366.4 631.4L368.0 629.5L369.6 652.0L371.1 661.1L372.7 653.3L374.3 626.6L375.9 686.5L377.5 710.9L379.1 641.2L380.7 657.4L382.3 672.8L383.9 680.8L385.5 709.4L387.1 669.9L388.7 675.7L390.3 667.3L391.9 675.1L393.5 696.3L395.1 729.8L396.7 689.0L398.3 702.2L399.9 718.7L401.5 697.0L403.1 701.3L404.7 694.1L406.3 707.7L407.9 695.7L409.5 684.3L411.0 737.2L412.6 706.4L414.2 726.0L415.8 733.6L417.4 725.4L419.0 689.0L420.6 677.7L422.2 766.7L423.8 660.6L425.4 726.4L427.0 708.4L428.6 765.5L430.2 722.8L431.8 747.0L433.4 752.5L435.0 740.7L436.6 713.8L438.2 760.5L439.8 723.5L441.4 720.5L443.0 725.4L444.6 725.1L446.2 749.9L447.8 729.8L449.4 749.2L450.9 754.9L452.5 763.8L454.1 766.7L455.7 748.1L457.3 803.7L458.9 739.0L460.5 747.3L462.1 768.5L463.7 765.1L465.3 781.2L466.9 791.3L468.5 787.5L470.1 780.4L471.7 754.5L473.3 783.3L474.9 760.1L476.5 845.0L478.1 793.0L479.7 775.5L481.3 778.6L482.9 765.1L484.5 852.6L486.1 755.0L487.7 787.7L489.3 767.1L490.8 742.1L492.4 756.9L494.0 833.0L495.6 820.2L497.2 815.9L498.8 840.8L500.4 849.5L502.0 771.2L503.6 844.3L505.2 791.5L506.8 787.5L508.4 834.5L510.0 794.2L511.6 801.4L513.2 793.6L514.8 816.5L516.4 860.6L518.0 880.6L519.6 841.2L521.2 807.3L522.8 926.2L524.4 854.3L526.0 844.7L527.6 798.5L529.2 858.4L530.7 830.6L532.3 858.0L533.9 782.8L535.5 809.1L537.1 847.7L538.7 877.4L540.3 820.7L541.9 837.8L543.5 828.8L545.1 861.1L546.7 841.7L548.3 929.0L549.9 865.4L551.5 787.6L553.1 850.2L554.7 822.8L556.3 802.1L557.9 844.7L559.5 885.2L561.1 868.9L562.7 933.6L564.3 873.7L565.9 858.1L567.5 919.8L569.1 961.4L570.6 852.5L572.2 946.2L573.8 888.8L575.4 837.6L577.0 866.7L578.6 851.4L580.2 899.6L581.8 899.4L583.4 850.8L585.0 881.8L586.6 904.8L588.2 966.7L589.8 886.8L591.4 929.8L593.0 875.3L594.6 875.1L596.2 909.8L597.8 844.3L599.4 880.0L601.0 874.4L602.6 902.8L604.2 908.8L605.8 829.6L607.4 896.3L609.0 908.2L610.5 955.9L612.1 934.0L613.7 873.0L615.3 955.3L616.9 920.0L618.5 883.5L620.1 1014.3L621.7 1023.9L623.3 961.9L624.9 925.7L626.5 925.6L628.1 961.4L629.7 899.9L631.3 905.9L632.9 968.7L634.5 976.7L636.1 968.4L637.7 976.4L639.3 887.4L640.9 1104.0L642.5 911.1L644.1 937.6L645.7 930.5L647.3 944.4L648.9 892.4L650.4 951.5L652.0 951.3L653.6 916.5L655.2 1051.5L656.8 943.5L658.4 916.2L660.0 991.0L661.6 922.4L663.2 957.9L664.8 990.5L666.4 935.6L668.0 1038.9L669.6 915.3L671.2 921.7L672.8 964.8L674.4 956.9L676.0 964.5L677.6 949.1L679.2 1027.0L680.8 1048.4L682.4 934.3L684.0 988.6L685.6 914.1L687.2 988.3L688.8 1047.3L690.3 988.0L691.9 940.6L693.5 979.1L695.1 996.4L696.7 978.8L698.3 1046.2L699.9 1069.5L701.5 926.1L703.1 1014.4L704.7 962.0L706.3 986.5L707.9 1034.2L709.5 1013.7L711.1 1068.2L712.7 1033.8L714.3 969.2L715.9 1055.6L717.5 1107.5L719.1 960.9L720.7 976.9L722.3 976.7L723.9 1012.5L725.5 1121.5L727.1 1121.3L728.7 1012.1L730.2 1021.9L731.8 1042.9L733.4 1105.8L735.0 1054.0L736.6 993.2L738.2 1002.2L739.8 1002.1L741.4 1065.5L743.0 1002.0L744.6 1001.9L746.2 1090.9L747.8 1011.2L749.4 1031.2L751.0 1020.8L752.6 1011.0L754.2 1030.9L755.8 1077.1L757.4 944.5L759.0 1052.7L760.6 1041.4L762.2 1041.3L763.8 1134.4L765.4 1010.4L767.0 1001.0L768.6 1000.9L770.1 1063.9L771.7 1076.2L773.3 1000.8L774.9 1040.7L776.5 1051.8L778.1 1040.5L779.7 1117.5L781.3 1029.7L782.9 1009.7L784.5 1075.3L786.1 1029.3L787.7 1039.8L789.3 1087.9L790.9 999.9L792.5 1148.6L794.1 1074.4L795.7 1062.0L797.3 1074.2L798.9 1185.8L800.5 990.5L802.1 1028.3L803.7 990.4L805.3 1184.9L806.9 1100.1L808.5 1049.5L810.0 1027.9L811.6 1086.0L813.2 1027.8L814.8 1205.2L816.4 1183.6L818.0 1049.0L819.6 1072.6L821.2 1099.0L822.8 1182.9L824.4 1113.2L826.0 1113.1L827.6 1027.3L829.2 1048.5L830.8 1060.0L832.4 1059.9L834.0 1112.6L835.6 1098.1L837.2 1144.3L838.8 1059.7L840.4 1161.9L842.0 1071.6L843.6 1356.1L845.2 1071.5L846.8 1127.2L848.4 1027.0L849.9 1111.8L851.5 1037.2L853.1 1111.6L854.7 1048.0L856.3 1180.0L857.9 1111.4L859.5 1059.3L861.1 1160.5L862.7 1160.4L864.3 1142.7L865.9 1097.0L867.5 1142.6L869.1 1059.2L870.7 1200.0L872.3 1179.0L873.9 1083.5L875.5 1059.2L877.1 1178.7L878.7 1071.0L880.3 1083.5L881.9 1310.8L883.5 1178.4L885.1 1037.4L886.7 1048.1L888.3 1178.3L889.8 1096.7L891.4 1159.3L893.0 1198.9L894.6 1110.7L896.2 999.8L897.8 1110.7L899.4 1221.5L901.0 1096.7L902.6 1177.9L904.2 1198.5L905.8 1141.7L907.4 1110.7L909.0 1177.7L910.6 1221.1L912.2 1308.6L913.8 1125.6L915.4 1220.9L917.0 1141.6L918.6 1071.4L920.2 1110.7L921.8 1177.5L923.4 1158.8L925.0 1177.5L926.6 1197.9L928.2 1158.7L929.7 1158.7L931.3 1158.7L932.9 1110.8L934.5 1049.2L936.1 1158.7L937.7 1197.7L939.3 1141.6L940.9 1158.7L942.5 1177.3L944.1 1220.1L945.7 1141.6L947.3 1306.4L948.9 1125.9L950.5 1197.5L952.1 1219.9L953.7 1219.9L955.3 1158.8L956.9 1197.5L958.5 1273.1L960.1 1273.1L961.7 1177.3L963.3 1273.0L964.9 1244.8L966.5 1158.9L968.1 1197.5L969.6 1197.5L971.2 1197.5L972.8 1126.2L974.4 1305.7L976.0 1305.7L977.6 1158.9L979.2 1244.8L980.8 1305.7L982.4 1344.3L984.0 1197.5L985.6 1073.0L987.2 1391.6L988.8 1244.8L990.4 1158.9L992.0 1141.9L993.6 1273.0L995.2 1050.7L996.8 1219.8L998.4 1197.5L1000.0 1344.3L1001.6 1273.0L1003.2 1344.3L1004.8 1244.8L1006.4 1219.8L1008.0 1158.9L1009.5 1244.8L1011.1 1219.8L1012.7 1126.2L1014.3 1197.5L1015.9 1391.6L1017.5 1273.0L1019.1 1244.8L1020.7 1305.7L1022.3 1219.8L1023.9 1244.8L1025.5 1344.3L1027.1 1197.5L1028.7 1197.5L1030.3 1344.3L1031.9 1391.6L1033.5 1344.3L1035.1 1073.0L1036.7 1244.8L1038.3 1305.7L1039.9 1344.3L1041.5 1305.7L1043.1 1219.8L1044.7 1244.8L1046.3 1344.3L1047.9 1452.5L1049.4 1244.8L1051.0 1344.3L1052.6 1126.2L1054.2 1273.0L1055.8 1391.6L1057.4 1177.3L1059.0 1244.8L1060.6 1305.7L1062.2 1244.8L1063.8 1305.7L1065.4 1305.7L1067.0 1219.8L1068.6 1244.8L1070.2 1197.5L1071.8 1305.7L1073.4 1141.9L1075.0 1391.6L1076.6 1273.0L1078.2 1391.6L1079.8 1244.8L1081.4 1344.3L1083.0 1305.7L1084.6 1273.0L1086.2 1244.8L1087.8 1197.5L1089.3 1197.5L1090.9 1273.0L1092.5 1344.3L1094.1 1452.5L1095.7 1391.6L1097.3 1305.7L1098.9 1219.8L1100.5 1453.0L1102.1 1273.0L1103.7 1141.9L1105.3 1273.0L1106.9 1344.3L1108.5 1219.8L1110.1 1197.5L1111.7 1244.8L1113.3 1244.8L1114.9 1219.8L1116.5 1197.5L1118.1 1273.0L1119.7 1305.7L1121.3 1177.3L1122.9 1197.5L1124.5 1177.3L1126.1 1452.5L1127.7 1305.7L1129.2 1453.0L1130.8 1391.6L1132.4 1197.5L1134.0 1391.6L1135.6 1452.5L1137.2 1344.3L1138.8 1344.3L1140.4 1273.0L1142.0 1305.7L1143.6 1391.6L1145.2 1391.6L1146.8 1391.6L1148.4 1452.5L1150.0 1344.3L1151.6 1344.3L1153.2 1453.0L1154.8 1273.0L1156.4 1177.3L1158.0 1344.3L1159.6 1344.3L1161.2 1197.5L1162.8 1305.7L1164.4 1197.5L1166.0 1273.0L1167.6 1141.9L1169.1 1344.3L1170.7 1273.0L1172.3 1273.0L1173.9 1305.7L1175.5 1391.6L1177.1 1244.8L1178.7 1344.3L1180.3 1452.5L1181.9 1273.0L1183.5 1244.8L1185.1 1219.8L1186.7 1219.8L1188.3 1344.3L1189.9 1305.7L1191.5 1244.8L1193.1 1305.7L1194.7 1219.8L1196.3 1344.3L1197.9 1453.0L1199.5 1344.3L1201.1 1452.5L1202.7 1452.5L1204.3 1452.5L1205.9 1344.3L1207.5 1305.7L1209.0 1453.0L1210.6 1344.3L1212.2 1158.9L1213.8 1452.5L1215.4 1344.3L1217.0 1452.5L1218.6 1453.0L1220.2 1219.8L1221.8 1126.2L1223.4 1197.5L1225.0 1219.8L1226.6 1452.5L1228.2 1219.8L1229.8 1391.6L1231.4 1158.9L1233.0 1344.3L1234.6 1177.3L1236.2 1453.0L1237.8 1453.0L1239.4 1273.0L1241.0 1305.7L1242.6 1244.8L1244.2 1273.0L1245.8 1305.7L1247.4 1344.3L1248.9 1219.8L1250.5 1344.3L1252.1 1273.0L1253.7 1244.8L1255.3 1273.0L1256.9 1344.3L1258.5 1453.0L1260.1 1391.6L1261.7 1219.8L1263.3 1219.8L1264.9 1219.8L1266.5 1273.0L1268.1 1305.7L1269.7 1344.3L1271.3 1273.0L1272.9 1391.6L1274.5 1391.6L1276.1 1305.7L1277.7 1452.5L1279.3 1344.3L1280.9 1452.5L1282.5 1452.5L1284.1 1344.3L1285.7 1344.3L1287.3 1273.0L1288.8 1452.5L1290.4 1453.0M1293.6 1344.3L1295.2 1452.5L1296.8 1273.0L1298.4 1453.0L1300.0 1453.0L1301.6 1305.7L1303.2 1391.6L1304.8 1391.6L1306.4 1177.3L1308.0 1244.8L1309.6 1305.7L1311.2 1305.7L1312.8 1453.0L1314.4 1344.3L1316.0 1273.0L1317.6 1305.7L1319.2 1452.5L1320.8 1453.0L1322.4 1453.0L1324.0 1344.3L1325.6 1391.6L1327.2 1219.8L1328.7 1244.8L1330.3 1453.0L1331.9 1391.6L1333.5 1452.5L1335.1 1453.0L1336.7 1273.0L1338.3 1452.5L1339.9 1453.0L1341.5 1305.7L1343.1 1244.8L1344.7 1452.5L1346.3 1452.5L1347.9 1452.5M1351.1 1273.0L1352.7 1344.3L1354.3 1273.0L1355.9 1344.3L1357.5 1344.3L1359.1 1219.8L1360.7 1452.5L1362.3 1453.0L1363.9 1344.3L1365.5 1453.0L1367.1 1305.7L1368.6 1452.5M1371.8 1305.7M1375.0 1344.3L1376.6 1452.5L1378.2 1452.5L1379.8 1244.8L1381.4 1453.0L1383.0 1344.3L1384.6 1452.5L1386.2 1452.5L1387.8 1158.9L1389.4 1391.6L1391.0 1344.3L1392.6 1305.7L1394.2 1453.0L1395.8 1141.9L1397.4 1453.0L1399.0 1344.3L1400.6 1452.5L1402.2 1452.5L1403.8 1244.8L1405.4 1391.6L1407.0 1452.5L1408.5 1305.7L1410.1 1453.0L1411.7 1391.6L1413.3 1219.8L1414.9 1344.3L1416.5 1391.6M1419.7 1391.6L1421.3 1219.8L1422.9 1219.8L1424.5 1391.6L1426.1 1197.5L1427.7 1344.3L1429.3 1453.0L1430.9 1452.5L1432.5 1453.0L1434.1 1344.3L1435.7 1453.0L1437.3 1453.0L1438.9 1273.0L1440.5 1244.8L1442.1 1391.6L1443.7 1391.6L1445.3 1273.0L1446.9 1244.8L1448.4 1244.8L1450.0 1305.7L1451.6 1452.5M1454.8 1453.0L1456.4 1391.6L1458.0 1344.3L1459.6 1305.7L1461.2 1452.5L1462.8 1452.5L1464.4 1391.6L1466.0 1305.7L1467.6 1452.5L1469.2 1452.5L1470.8 1244.8L1472.4 1273.0L1474.0 1391.6L1475.6 1453.0L1477.2 1244.8M1480.4 1453.0L1482.0 1453.0L1483.6 1452.5M1486.8 1391.6L1488.3 1453.0L1489.9 1344.3L1491.5 1219.8L1493.1 1344.3L1494.7 1244.8L1496.3 1305.7L1497.9 1453.0L1499.5 1197.5L1501.1 1244.8L1502.7 1177.3L1504.3 1305.7L1505.9 1273.0L1507.5 1391.6L1509.1 1453.0L1510.7 1219.8L1512.3 1344.3L1513.9 1452.5L1515.5 1197.5L1517.1 1452.5L1518.7 1344.3L1520.3 1452.5L1521.9 1344.3L1523.5 1391.6L1525.1 1344.3L1526.7 1305.7L1528.2 1391.6L1529.8 1453.0L1531.4 1344.3L1533.0 1344.3L1534.6 1344.3L1536.2 1452.5L1537.8 1452.5L1539.4 1344.3L1541.0 1244.8L1542.6 1244.8L1544.2 1452.5L1545.8 1452.5L1547.4 1452.5L1549.0 1219.8L1550.6 1452.5L1552.2 1391.6L1553.8 1391.6L1555.4 1453.0L1557.0 1273.0L1558.6 1452.5L1560.2 1452.5L1561.8 1452.5L1563.4 1453.0L1565.0 1452.5L1566.6 1453.0L1568.1 1305.7L1569.7 1344.3L1571.3 1452.5L1572.9 1453.0L1574.5 1391.6L1576.1 1452.5L1577.7 1391.6L1579.3 1391.6L1580.9 1391.6L1582.5 1452.5L1584.1 1197.5L1585.7 1244.8L1587.3 1344.3L1588.9 1452.5L1590.5 1197.5L1592.1 1453.0L1593.7 1452.5L1595.3 1452.5L1596.9 1305.7L1598.5 1305.7L1600.1 1452.5L1601.7 1453.0L1603.3 1344.3L1604.9 1344.3L1606.5 1452.5L1608.0 1453.0L1609.6 1452.5L1611.2 1344.3L1612.8 1391.6L1614.4 1453.0L1616.0 1273.0L1617.6 1344.3L1619.2 1305.7L1620.8 1452.5L1622.4 1453.0L1624.0 1197.5L1625.6 1452.5L1627.2 1344.3L1628.8 1391.6M1632.0 1305.7L1633.6 1453.0L1635.2 1452.5L1636.8 1453.0L1638.4 1453.0L1640.0 1452.5L1641.6 1453.0L1643.2 1273.0L1644.8 1344.3L1646.4 1453.0L1647.9 1141.9L1649.5 1391.6L1651.1 1452.5L1652.7 1391.6L1654.3 1453.0L1655.9 1344.3L1657.5 1452.5L1659.1 1273.0L1660.7 1391.6L1662.3 1453.0L1663.9 1197.5L1665.5 1305.7L1667.1 1305.7L1668.7 1391.6L1670.3 1453.0L1671.9 1452.5L1673.5 1452.5L1675.1 1453.0L1676.7 1391.6L1678.3 1453.0L1679.9 1391.6L1681.5 1344.3L1683.1 1305.7L1684.7 1453.0L1686.3 1244.8L1687.8 1452.5L1689.4 1452.5L1691.0 1273.0L1692.6 1452.5L1694.2 1344.3L1695.8 1305.7L1697.4 1344.3L1699.0 1344.3L1700.6 1158.9L1702.2 1158.9L1703.8 1453.0L1705.4 1453.0M1708.6 1305.7L1710.2 1453.0L1711.8 1453.0L1713.4 1452.5L1715.0 1344.3L1716.6 1344.3L1718.2 1344.3L1719.8 1219.8L1721.4 1453.0L1723.0 1453.0L1724.6 1452.5L1726.2 1453.0L1727.7 1453.0L1729.3 1305.7L1730.9 1177.3L1732.5 1452.5L1734.1 1391.6L1735.7 1453.0L1737.3 1391.6L1738.9 1452.5L1740.5 1453.0L1742.1 1453.0L1743.7 1453.0L1745.3 1391.6L1746.9 1344.3L1748.5 1305.7L1750.1 1452.5L1751.7 1453.0L1753.3 1391.6L1754.9 1344.3L1756.5 1452.5L1758.1 1453.0L1759.7 1344.3L1761.3 1453.0L1762.9 1344.3L1764.5 1453.0L1766.1 1344.3L1767.6 1453.0L1769.2 1452.5L1770.8 1344.3L1772.4 1305.7L1774.0 1452.5L1775.6 1453.0L1777.2 1273.0L1778.8 1391.6L1780.4 1344.3L1782.0 1453.0L1783.6 1305.7L1785.2 1453.0L1786.8 1453.0L1788.4 1453.0L1790.0 1391.6L1791.6 1273.0L1793.2 1391.6L1794.8 1177.3L1796.4 1344.3L1798.0 1344.3M1801.2 1305.7L1802.8 1391.6L1804.4 1453.0L1806.0 1452.5L1807.5 1453.0L1809.1 1453.0L1810.7 1344.3L1812.3 1344.3L1813.9 1391.6M1817.1 1453.0L1818.7 1452.5L1820.3 1219.8L1821.9 1273.0L1823.5 1453.0L1825.1 1344.3L1826.7 1453.0L1828.3 1453.0L1829.9 1305.7M1833.1 1273.0L1834.7 1344.3L1836.3 1453.0L1837.9 1273.0L1839.5 1453.0L1841.1 1391.6L1842.7 1452.5L1844.3 1273.0L1845.9 1305.7L1847.4 1453.0L1849.0 1305.7L1850.6 1391.6L1852.2 1452.5L1853.8 1452.5M1858.6 1453.0L1860.2 1391.6L1861.8 1219.8L1863.4 1305.7L1865.0 1344.3L1866.6 1453.0L1868.2 1305.7L1869.8 1305.7L1871.4 1391.6L1873.0 1391.6M1876.2 1452.5M1879.4 1344.3L1881.0 1453.0L1882.6 1452.5L1884.2 1344.3L1885.8 1452.5L1887.3 1344.3L1888.9 1391.6L1890.5 1453.0L1892.1 1453.0L1893.7 1177.3L1895.3 1452.5M1898.5 1452.5L1900.1 1453.0L1901.7 1305.7L1903.3 1219.8L1904.9 1391.6L1906.5 1126.2L1908.1 1391.6L1909.7 1344.3L1911.3 1244.8M1916.1 1273.0L1917.7 1305.7L1919.3 1452.5L1920.9 1391.6L1922.5 1391.6L1924.1 1244.8L1925.7 1244.8L1927.2 1452.5L1928.8 1391.6L1930.4 1452.5L1932.0 1453.0L1933.6 1452.5L1935.2 1273.0L1936.8 1452.5L1938.4 1453.0L1940.0 1452.5M1943.2 1452.5L1944.8 1344.3L1946.4 1391.6L1948.0 1244.8M1951.2 1391.6L1952.8 1453.0L1954.4 1452.5L1956.0 1391.6L1957.6 1391.6L1959.2 1453.0L1960.8 1452.5L1962.4 1391.6L1964.0 1453.0L1965.6 1273.0L1967.1 1305.7L1968.7 1391.6L1970.3 1197.5L1971.9 1453.0L1973.5 1452.5L1975.1 1244.8L1976.7 1453.0L1978.3 1305.7L1979.9 1453.0L1981.5 1453.0L1983.1 1219.8L1984.7 1344.3L1986.3 1453.0L1987.9 1344.3M1991.1 1452.5L1992.7 1453.0L1994.3 1452.5L1995.9 1391.6L1997.5 1453.0L1999.1 1452.5M2002.3 1453.0L2003.9 1453.0L2005.5 1453.0L2007.0 1391.6M2010.2 1344.3L2011.8 1391.6M2015.0 1452.5L2016.6 1273.0L2018.2 1391.6L2019.8 1344.3L2021.4 1452.5L2023.0 1453.0L2024.6 1452.5L2026.2 1391.6L2027.8 1452.5M2032.6 1453.0L2034.2 1453.0L2035.8 1453.0L2037.4 1391.6L2039.0 1453.0L2040.6 1453.0L2042.2 1453.0L2043.8 1453.0L2045.4 1453.0L2046.9 1452.5L2048.5 1453.0L2050.1 1391.6L2051.7 1177.3L2053.3 1453.0L2054.9 1452.5M2058.1 1453.0L2059.7 1244.8L2061.3 1453.0L2062.9 1453.0L2064.5 1391.6L2066.1 1344.3L2067.7 1453.0L2069.3 1453.0L2070.9 1453.0L2072.5 1453.0L2074.1 1452.5L2075.7 1452.5L2077.3 1453.0L2078.9 1391.6L2080.5 1452.5L2082.1 1391.6L2083.7 1305.7L2085.3 1391.6L2086.8 1219.8L2088.4 1453.0M2091.6 1453.0L2093.2 1391.6M2096.4 1453.0L2098.0 1453.0L2099.6 1197.5L2101.2 1453.0L2102.8 1344.3M2106.0 1344.3" stroke="#0000ff" stroke-width="11" fill="none" stroke-linejoin="round" stroke-linecap="butt"/>
<path d="M190.8 103.9L192.4 111.3L194.0 131.6L195.6 159.9L197.2 168.8L198.8 192.2L200.4 225.5L202.0 242.5L203.6 253.4L205.2 288.0L206.8 321.6L208.4 305.2L210.0 341.4L211.5 350.3L213.1 371.4L214.7 383.1L216.3 393.0L217.9 431.7L219.5 438.4L221.1 436.2L222.7 435.3L224.3 456.1L225.9 434.2L227.5 462.5L229.1 459.3L230.7 483.7L232.3 480.3L233.9 462.8L235.5 487.2L237.1 506.8L238.7 493.5L240.3 497.2L241.9 487.6L243.5 498.4L245.1 513.6L246.7 511.9L248.3 532.2L249.9 552.3L251.4 549.3L253.0 577.4L254.6 541.1L256.2 539.3L257.8 560.3L259.4 599.9L261.0 569.8L262.6 540.7L264.2 579.9L265.8 614.5L267.4 590.5L269.0 581.6L270.6 576.8L272.2 581.4L273.8 626.4L275.4 605.3L277.0 623.2L278.6 603.8L280.2 585.7L281.8 596.4L283.4 684.5L285.0 650.6L286.6 667.0L288.2 625.0L289.8 631.1L291.3 657.5L292.9 680.8L294.5 669.9L296.1 723.2L297.7 694.1L299.3 676.3L300.9 706.8L302.5 692.5L304.1 666.6L305.7 658.2L307.3 691.1L308.9 653.4L310.5 699.3L312.1 698.9L313.7 730.7L315.3 693.5L316.9 669.3L318.5 716.6L320.1 679.0L321.7 680.8L323.3 739.1L324.9 684.4L326.5 741.1L328.1 706.8L329.7 681.0L331.2 703.6L332.8 725.9L334.4 741.9L336.0 784.7L337.6 730.0L339.2 711.3L340.8 819.9L342.4 823.4L344.0 815.1L345.6 762.7L347.2 771.8L348.8 774.7L350.4 740.5L352.0 764.2L353.6 780.1L355.2 797.2L356.8 807.9L358.4 819.2L360.0 771.7L361.6 777.9L363.2 825.9L364.8 766.9L366.4 801.3L368.0 820.3L369.6 743.7L371.1 844.9L372.7 844.4L374.3 867.6L375.9 817.7L377.5 847.5L379.1 812.7L380.7 865.6L382.3 824.0L383.9 827.7L385.5 799.0L387.1 849.1L388.7 805.7L390.3 852.8L391.9 782.2L393.5 847.0L395.1 856.1L396.7 855.6L398.3 935.2L399.9 854.8L401.5 826.8L403.1 826.3L404.7 907.8L406.3 907.4L407.9 889.4L409.5 925.5L411.0 872.1L412.6 888.1L414.2 893.4L415.8 870.8L417.4 898.4L419.0 982.3L420.6 874.9L422.2 973.0L423.8 915.1L425.4 890.4L427.0 948.4L428.6 889.6L430.2 940.2L431.8 939.8L433.4 925.6L435.0 1022.6L436.6 918.2L438.2 945.2L439.8 937.7L441.4 983.7L443.0 880.8L444.6 910.0L446.2 1050.9L447.8 965.7L449.4 909.2L450.9 965.1L452.5 1073.1L454.1 1049.0L455.7 964.2L457.3 941.4L458.9 1026.4L460.5 1026.1L462.1 979.4L463.7 926.7L465.3 962.7L466.9 970.4L468.5 962.2L470.1 946.9L471.7 986.4L473.3 986.2L474.9 1013.4L476.5 985.7L478.1 1044.0L479.7 1173.9L481.3 1043.5L482.9 1012.2L484.5 938.1L486.1 1002.3L487.7 1021.4L489.3 1021.2L490.8 1041.9L492.4 1041.7L494.0 951.8L495.6 1041.2L497.2 1041.0L498.8 974.9L500.4 1000.8L502.0 1063.6L503.6 1075.8L505.2 1029.7L506.8 943.9L508.4 1009.6L510.0 1075.2L511.6 1039.8L513.2 1132.1L514.8 1074.7L516.4 990.9L518.0 1074.4L519.6 1074.3L521.2 1050.2L522.8 1131.0L524.4 1115.2L526.0 1061.5L527.6 1230.5L529.2 1028.1L530.7 1165.0L532.3 1114.5L533.9 1184.3L535.5 1038.3L537.1 1085.9L538.7 1060.7L540.3 1113.8L541.9 1099.1L543.5 1099.0L545.1 1128.9L546.7 1128.7L548.3 1113.2L549.9 1048.7L551.5 1098.6L553.1 1098.5L554.7 1084.9L556.3 1060.0L557.9 1203.4L559.5 1162.6L561.1 1128.1L562.7 1059.9L564.3 1027.1L565.9 1084.6L567.5 1059.8L569.1 1027.1L570.6 1084.5L572.2 1071.7L573.8 1071.7L575.4 1084.4L577.0 1048.2L578.6 1181.0L580.2 1161.6L581.8 1180.9L583.4 1112.0L585.0 1161.4L586.6 1017.1L588.2 1161.3L589.8 1037.3L591.4 1007.7L593.0 1180.4L594.6 1111.7L596.2 1071.3L597.8 1083.9L599.4 1037.2L601.0 1097.3L602.6 1179.9L604.2 1111.4L605.8 1126.5L607.4 1071.1L609.0 1179.5L610.5 1097.0L612.1 1096.9L613.7 1249.0L615.3 1160.0L616.9 1059.2L618.5 1059.2L620.1 1199.6L621.7 1277.5L623.3 1142.1L624.9 1048.0L626.5 1110.8L628.1 1222.1L629.7 1059.3L631.3 1125.7L632.9 1125.7L634.5 1247.3L636.1 1159.1L637.7 1159.1L639.3 1110.7L640.9 1083.6L642.5 1198.4L644.1 1110.7L645.7 1348.1L647.3 1096.8L648.9 1096.8L650.4 1275.0L652.0 1110.7L653.6 1198.0L655.2 1220.6L656.8 1141.5L658.4 1083.9L660.0 1110.8L661.6 1274.3L663.2 1110.9L664.8 1141.6L666.4 1245.4L668.0 1158.7L669.6 1197.6L671.2 1220.1L672.8 1158.7L674.4 1197.6L676.0 1220.0L677.6 1072.5L679.2 1219.9L680.8 1177.3L682.4 1273.2L684.0 1453.0L685.6 1097.9L687.2 1244.8L688.8 1177.3L690.3 1273.0L691.9 1273.0L693.5 1177.3L695.1 1111.6L696.7 1141.9L698.3 1177.3L699.9 1219.8L701.5 1126.2L703.1 1244.8L704.7 1305.7L706.3 1177.3L707.9 1391.6L709.5 1391.6L711.1 1305.7L712.7 1177.3L714.3 1126.2L715.9 1273.0L717.5 1305.7L719.1 1219.8L720.7 1177.3L722.3 1085.1L723.9 1344.3L725.5 1344.3L727.1 1244.8L728.7 1391.6L730.2 1197.5L731.8 1273.0L733.4 1391.6L735.0 1273.0L736.6 1273.0L738.2 1219.8L739.8 1158.9L741.4 1197.5L743.0 1197.5L744.6 1273.0L746.2 1177.3L747.8 1177.3L749.4 1244.8L751.0 1141.9L752.6 1391.6L754.2 1219.8L755.8 1219.8L757.4 1219.8L759.0 1111.6L760.6 1273.0L762.2 1391.6L763.8 1219.8L765.4 1219.8L767.0 1305.7L768.6 1158.9L770.1 1141.9L771.7 1244.8L773.3 1391.6L774.9 1244.8L776.5 1219.8L778.1 1344.3L779.7 1219.8L781.3 1305.7L782.9 1197.5L784.5 1305.7L786.1 1177.3L787.7 1305.7L789.3 1219.8L790.9 1219.8L792.5 1453.0L794.1 1273.0L795.7 1453.0L797.3 1197.5L798.9 1244.8L800.5 1219.8L802.1 1305.7L803.7 1219.8L805.3 1244.8L806.9 1244.8L808.5 1197.5L810.0 1177.3L811.6 1273.0L813.2 1197.5L814.8 1305.7L816.4 1273.0L818.0 1305.7L819.6 1452.5L821.2 1244.8L822.8 1344.3L824.4 1305.7L826.0 1197.5L827.6 1344.3L829.2 1305.7L830.8 1344.3L832.4 1452.5L834.0 1344.3L835.6 1344.3L837.2 1244.8L838.8 1244.8L840.4 1391.6L842.0 1391.6L843.6 1305.7L845.2 1273.0L846.8 1305.7L848.4 1305.7L849.9 1177.3L851.5 1391.6L853.1 1273.0L854.7 1344.3L856.3 1219.8L857.9 1273.0L859.5 1452.5L861.1 1452.5L862.7 1344.3L864.3 1344.3L865.9 1197.5L867.5 1305.7L869.1 1305.7L870.7 1305.7L872.3 1197.5L873.9 1391.6L875.5 1344.3L877.1 1453.0L878.7 1219.8L880.3 1197.5L881.9 1452.5L883.5 1391.6L885.1 1391.6L886.7 1273.0L888.3 1344.3L889.8 1452.5L891.4 1305.7L893.0 1453.0L894.6 1453.0L896.2 1453.0L897.8 1219.8L899.4 1305.7L901.0 1305.7M904.2 1452.5L905.8 1273.0L907.4 1391.6L909.0 1344.3M912.2 1453.0L913.8 1305.7L915.4 1391.6L917.0 1305.7L918.6 1391.6L920.2 1453.0L921.8 1453.0L923.4 1453.0L925.0 1244.8L926.6 1344.3L928.2 1452.5L929.7 1344.3L931.3 1344.3L932.9 1305.7L934.5 1273.0L936.1 1305.7L937.7 1391.6L939.3 1344.3L940.9 1452.5L942.5 1453.0L944.1 1452.5L945.7 1219.8L947.3 1344.3L948.9 1219.8L950.5 1344.3L952.1 1453.0L953.7 1452.5L955.3 1344.3L956.9 1452.5L958.5 1273.0L960.1 1305.7L961.7 1452.5L963.3 1273.0L964.9 1344.3L966.5 1344.3L968.1 1453.0L969.6 1273.0L971.2 1452.5L972.8 1273.0L974.4 1452.5L976.0 1452.5L977.6 1305.7L979.2 1391.6L980.8 1197.5L982.4 1344.3L984.0 1453.0L985.6 1344.3L987.2 1453.0L988.8 1344.3L990.4 1452.5L992.0 1452.5L993.6 1273.0L995.2 1344.3L996.8 1391.6L998.4 1452.5L1000.0 1453.0L1001.6 1391.6L1003.2 1344.3L1004.8 1452.5L1006.4 1391.6L1008.0 1452.5L1009.5 1453.0L1011.1 1177.3L1012.7 1305.7L1014.3 1391.6L1015.9 1453.0L1017.5 1453.0L1019.1 1453.0L1020.7 1453.0L1022.3 1453.0L1023.9 1453.0L1025.5 1452.5L1027.1 1273.0L1028.7 1344.3L1030.3 1391.6L1031.9 1452.5L1033.5 1452.5L1035.1 1344.3L1036.7 1453.0L1038.3 1452.5L1039.9 1391.6L1041.5 1305.7L1043.1 1305.7L1044.7 1452.5L1046.3 1452.5L1047.9 1453.0L1049.4 1273.0L1051.0 1452.5L1052.6 1305.7M1055.8 1391.6L1057.4 1452.5L1059.0 1452.5L1060.6 1273.0L1062.2 1391.6L1063.8 1453.0L1065.4 1453.0L1067.0 1453.0L1068.6 1453.0L1070.2 1344.3L1071.8 1344.3M1075.0 1305.7M1078.2 1273.0L1079.8 1452.5L1081.4 1219.8L1083.0 1344.3L1084.6 1453.0L1086.2 1453.0L1087.8 1391.6L1089.3 1452.5L1090.9 1453.0L1092.5 1453.0L1094.1 1244.8L1095.7 1453.0L1097.3 1391.6L1098.9 1453.0L1100.5 1453.0L1102.1 1273.0L1103.7 1197.5L1105.3 1452.5L1106.9 1453.0L1108.5 1453.0L1110.1 1452.5L1111.7 1453.0L1113.3 1453.0L1114.9 1391.6L1116.5 1344.3L1118.1 1453.0L1119.7 1453.0L1121.3 1452.5L1122.9 1305.7L1124.5 1219.8L1126.1 1305.7L1127.7 1453.0L1129.2 1453.0L1130.8 1391.6L1132.4 1344.3L1134.0 1453.0L1135.6 1452.5L1137.2 1344.3L1138.8 1452.5L1140.4 1391.6L1142.0 1453.0L1143.6 1452.5L1145.2 1453.0L1146.8 1453.0L1148.4 1391.6L1150.0 1453.0L1151.6 1453.0L1153.2 1273.0L1154.8 1391.6L1156.4 1305.7L1158.0 1273.0L1159.6 1391.6L1161.2 1453.0L1162.8 1453.0L1164.4 1344.3L1166.0 1452.5L1167.6 1391.6L1169.1 1197.5L1170.7 1453.0L1172.3 1453.0L1173.9 1391.6L1175.5 1453.0L1177.1 1244.8M1180.3 1391.6L1181.9 1244.8L1183.5 1344.3L1185.1 1453.0L1186.7 1452.5L1188.3 1453.0L1189.9 1391.6L1191.5 1453.0L1193.1 1141.9L1194.7 1453.0L1196.3 1453.0L1197.9 1453.0L1199.5 1305.7M1202.7 1344.3L1204.3 1219.8L1205.9 1452.5L1207.5 1453.0L1209.0 1344.3L1210.6 1453.0L1212.2 1305.7L1213.8 1453.0L1215.4 1452.5L1217.0 1453.0L1218.6 1273.0L1220.2 1453.0L1221.8 1391.6L1223.4 1391.6L1225.0 1391.6L1226.6 1453.0L1228.2 1452.5L1229.8 1453.0L1231.4 1391.6M1234.6 1453.0L1236.2 1453.0L1237.8 1391.6L1239.4 1391.6L1241.0 1453.0L1242.6 1452.5L1244.2 1391.6L1245.8 1244.8L1247.4 1453.0L1248.9 1391.6L1250.5 1452.5L1252.1 1453.0L1253.7 1391.6L1255.3 1273.0L1256.9 1453.0L1258.5 1453.0L1260.1 1452.5L1261.7 1452.5L1263.3 1453.0L1264.9 1453.0L1266.5 1453.0L1268.1 1453.0L1269.7 1453.0L1271.3 1452.5L1272.9 1453.0L1274.5 1452.5M1279.3 1344.3L1280.9 1453.0L1282.5 1344.3L1284.1 1453.0L1285.7 1453.0M1288.8 1452.5L1290.4 1391.6M1293.6 1452.5M1296.8 1453.0L1298.4 1453.0L1300.0 1453.0L1301.6 1453.0L1303.2 1273.0L1304.8 1344.3L1306.4 1391.6L1308.0 1453.0L1309.6 1453.0L1311.2 1453.0M1316.0 1453.0M1319.2 1391.6L1320.8 1452.5L1322.4 1452.5M1325.6 1391.6L1327.2 1453.0L1328.7 1453.0L1330.3 1452.5L1331.9 1452.5L1333.5 1453.0L1335.1 1453.0L1336.7 1453.0L1338.3 1453.0L1339.9 1344.3L1341.5 1452.5L1343.1 1452.5L1344.7 1453.0L1346.3 1453.0L1347.9 1453.0L1349.5 1452.5L1351.1 1453.0L1352.7 1391.6L1354.3 1453.0M1357.5 1452.5L1359.1 1452.5L1360.7 1391.6L1362.3 1453.0L1363.9 1453.0L1365.5 1453.0L1367.1 1452.5L1368.6 1453.0L1370.2 1391.6L1371.8 1391.6L1373.4 1452.5L1375.0 1305.7L1376.6 1305.7L1378.2 1453.0L1379.8 1305.7L1381.4 1344.3M1384.6 1453.0L1386.2 1219.8L1387.8 1219.8L1389.4 1391.6L1391.0 1453.0L1392.6 1453.0L1394.2 1305.7M1397.4 1197.5L1399.0 1453.0L1400.6 1453.0M1403.8 1273.0L1405.4 1452.5L1407.0 1273.0L1408.5 1391.6L1410.1 1305.7L1411.7 1453.0M1416.5 1452.5L1418.1 1453.0L1419.7 1344.3L1421.3 1453.0L1422.9 1452.5L1424.5 1453.0M1427.7 1344.3L1429.3 1452.5L1430.9 1453.0L1432.5 1453.0L1434.1 1452.5L1435.7 1344.3L1437.3 1305.7L1438.9 1452.5L1440.5 1344.3L1442.1 1453.0L1443.7 1452.5M1448.4 1305.7L1450.0 1344.3L1451.6 1453.0L1453.2 1391.6L1454.8 1344.3L1456.4 1244.8L1458.0 1344.3L1459.6 1453.0L1461.2 1391.6M1466.0 1344.3L1467.6 1453.0L1469.2 1344.3L1470.8 1453.0L1472.4 1452.5M1475.6 1344.3L1477.2 1344.3L1478.8 1453.0L1480.4 1391.6L1482.0 1452.5L1483.6 1452.5L1485.2 1453.0L1486.8 1453.0L1488.3 1453.0L1489.9 1453.0L1491.5 1453.0L1493.1 1453.0L1494.7 1391.6L1496.3 1453.0L1497.9 1452.5L1499.5 1452.5L1501.1 1453.0L1502.7 1452.5L1504.3 1305.7L1505.9 1219.8L1507.5 1344.3L1509.1 1453.0L1510.7 1453.0L1512.3 1391.6L1513.9 1452.5M1517.1 1305.7M1521.9 1453.0L1523.5 1344.3M1526.7 1219.8L1528.2 1453.0L1529.8 1452.5L1531.4 1453.0L1533.0 1452.5L1534.6 1452.5L1536.2 1453.0L1537.8 1452.5L1539.4 1344.3L1541.0 1452.5L1542.6 1453.0L1544.2 1453.0L1545.8 1273.0M1549.0 1452.5M1552.2 1391.6L1553.8 1453.0M1557.0 1452.5M1560.2 1452.5L1561.8 1452.5L1563.4 1391.6M1566.6 1391.6L1568.1 1453.0L1569.7 1452.5L1571.3 1452.5L1572.9 1453.0L1574.5 1453.0L1576.1 1391.6L1577.7 1453.0M1580.9 1453.0L1582.5 1453.0L1584.1 1305.7L1585.7 1453.0L1587.3 1453.0L1588.9 1453.0L1590.5 1452.5L1592.1 1453.0L1593.7 1391.6L1595.3 1391.6L1596.9 1452.5L1598.5 1391.6L1600.1 1344.3L1601.7 1453.0L1603.3 1344.3L1604.9 1344.3L1606.5 1452.5L1608.0 1453.0L1609.6 1453.0L1611.2 1452.5M1614.4 1391.6M1617.6 1453.0L1619.2 1391.6L1620.8 1453.0L1622.4 1453.0M1625.6 1391.6L1627.2 1305.7L1628.8 1453.0L1630.4 1453.0L1632.0 1452.5L1633.6 1453.0L1635.2 1453.0L1636.8 1453.0L1638.4 1344.3L1640.0 1453.0L1641.6 1453.0M1644.8 1452.5L1646.4 1452.5L1647.9 1453.0L1649.5 1344.3L1651.1 1452.5M1654.3 1452.5L1655.9 1453.0L1657.5 1452.5L1659.1 1344.3L1660.7 1391.6M1663.9 1391.6L1665.5 1453.0M1668.7 1453.0M1671.9 1305.7L1673.5 1273.0L1675.1 1452.5L1676.7 1391.6L1678.3 1453.0M1681.5 1453.0L1683.1 1452.5L1684.7 1305.7L1686.3 1453.0M1689.4 1344.3L1691.0 1452.5L1692.6 1453.0M1697.4 1452.5M1700.6 1391.6L1702.2 1453.0L1703.8 1453.0L1705.4 1453.0M1710.2 1391.6M1713.4 1453.0M1718.2 1452.5L1719.8 1273.0L1721.4 1453.0M1724.6 1453.0L1726.2 1453.0L1727.7 1453.0L1729.3 1452.5M1732.5 1453.0L1734.1 1453.0L1735.7 1391.6L1737.3 1453.0L1738.9 1452.5L1740.5 1452.5L1742.1 1453.0L1743.7 1452.5L1745.3 1453.0L1746.9 1453.0L1748.5 1452.5L1750.1 1391.6L1751.7 1453.0L1753.3 1453.0L1754.9 1453.0M1758.1 1453.0M1761.3 1344.3L1762.9 1453.0L1764.5 1452.5M1767.6 1453.0L1769.2 1453.0M1772.4 1453.0L1774.0 1391.6L1775.6 1453.0L1777.2 1273.0L1778.8 1453.0L1780.4 1453.0L1782.0 1344.3L1783.6 1453.0L1785.2 1453.0L1786.8 1453.0M1790.0 1453.0M1794.8 1453.0L1796.4 1453.0L1798.0 1452.5L1799.6 1453.0M1806.0 1391.6L1807.5 1452.5L1809.1 1391.6M1813.9 1452.5L1815.5 1453.0L1817.1 1305.7L1818.7 1453.0L1820.3 1305.7L1821.9 1453.0M1825.1 1391.6L1826.7 1452.5M1833.1 1305.7M1836.3 1391.6L1837.9 1391.6L1839.5 1453.0L1841.1 1391.6L1842.7 1452.5L1844.3 1453.0L1845.9 1452.5M1850.6 1453.0L1852.2 1452.5L1853.8 1453.0L1855.4 1391.6L1857.0 1452.5L1858.6 1391.6L1860.2 1453.0M1863.4 1305.7L1865.0 1453.0L1866.6 1453.0L1868.2 1453.0L1869.8 1305.7L1871.4 1391.6L1873.0 1453.0L1874.6 1305.7M1877.8 1452.5M1881.0 1305.7L1882.6 1453.0M1885.8 1344.3L1887.3 1453.0L1888.9 1453.0L1890.5 1453.0L1892.1 1453.0L1893.7 1453.0L1895.3 1453.0M1898.5 1453.0L1900.1 1344.3M1903.3 1452.5L1904.9 1344.3L1906.5 1453.0L1908.1 1391.6M1911.3 1305.7L1912.9 1452.5L1914.5 1453.0L1916.1 1453.0L1917.7 1453.0L1919.3 1273.0L1920.9 1453.0L1922.5 1453.0L1924.1 1391.6L1925.7 1453.0L1927.2 1273.0L1928.8 1452.5L1930.4 1453.0L1932.0 1453.0L1933.6 1453.0L1935.2 1344.3L1936.8 1453.0L1938.4 1452.5L1940.0 1453.0L1941.6 1453.0L1943.2 1452.5L1944.8 1453.0L1946.4 1453.0L1948.0 1453.0M1952.8 1453.0L1954.4 1452.5L1956.0 1453.0L1957.6 1244.8L1959.2 1452.5L1960.8 1453.0L1962.4 1344.3L1964.0 1453.0L1965.6 1453.0L1967.1 1452.5M1970.3 1453.0L1971.9 1453.0L1973.5 1453.0L1975.1 1391.6M1978.3 1453.0L1979.9 1344.3M1983.1 1391.6L1984.7 1453.0M1987.9 1453.0L1989.5 1453.0L1991.1 1453.0L1992.7 1344.3L1994.3 1453.0M1997.5 1453.0L1999.1 1453.0L2000.7 1452.5L2002.3 1453.0L2003.9 1344.3L2005.5 1453.0L2007.0 1452.5L2008.6 1452.5L2010.2 1391.6L2011.8 1453.0M2018.2 1453.0L2019.8 1453.0L2021.4 1452.5L2023.0 1452.5L2024.6 1452.5M2027.8 1391.6L2029.4 1453.0M2034.2 1453.0L2035.8 1453.0L2037.4 1452.5L2039.0 1453.0L2040.6 1244.8L2042.2 1453.0M2045.4 1453.0L2046.9 1453.0M2050.1 1452.5M2053.3 1452.5L2054.9 1452.5L2056.5 1453.0L2058.1 1391.6L2059.7 1391.6L2061.3 1452.5M2064.5 1453.0L2066.1 1391.6L2067.7 1344.3L2069.3 1453.0L2070.9 1391.6L2072.5 1305.7L2074.1 1453.0L2075.7 1391.6L2077.3 1453.0L2078.9 1453.0M2086.8 1305.7L2088.4 1453.0M2091.6 1453.0L2093.2 1453.0L2094.8 1453.0L2096.4 1453.0L2098.0 1453.0L2099.6 1453.0L2101.2 1391.6L2102.8 1453.0L2104.4 1453.0" stroke="#008080" stroke-width="11" fill="none" stroke-linejoin="round" stroke-linecap="butt"/>
<path d="M190.8 152.0L192.4 191.1L194.0 226.8L195.6 256.5L197.2 316.6L198.8 383.4L200.4 445.4L202.0 435.4L203.6 458.2L205.2 503.5L206.8 511.5L208.4 528.2L210.0 548.7L211.5 591.5L213.1 560.6L214.7 609.9L216.3 627.6L217.9 607.4L219.5 623.7L221.1 714.8L222.7 702.4L224.3 699.9L225.9 717.7L227.5 745.6L229.1 738.2L230.7 742.2L232.3 746.3L233.9 735.9L235.5 806.2L237.1 786.2L238.7 867.8L240.3 856.8L241.9 875.5L243.5 788.0L245.1 839.3L246.7 838.1L248.3 892.4L249.9 948.4L251.4 901.7L253.0 946.1L254.6 836.8L256.2 923.1L257.8 896.7L259.4 963.0L261.0 994.8L262.6 938.0L264.2 936.8L265.8 1018.4L267.4 884.7L269.0 1006.2L270.6 978.6L272.2 995.4L273.8 1056.0L275.4 1033.1L277.0 993.7L278.6 984.5L280.2 1011.3L281.8 1052.8L283.4 1020.2L285.0 1063.5L286.6 1000.3L288.2 1132.2L289.8 1039.3L291.3 1008.7L292.9 1086.4L294.5 1099.6L296.1 1204.8L297.7 1098.7L299.3 1072.0L300.9 1059.7L302.5 1084.2L304.1 1180.3L305.7 1143.0L307.3 1047.9L308.9 1179.0L310.5 1277.4L312.1 1247.7L313.7 1276.2L315.3 1221.3L316.9 1141.6L318.5 1158.8L320.1 1197.9L321.7 1177.3L323.3 1220.2L324.9 1158.7L326.5 1197.5L328.1 1244.9L329.7 1098.0L331.2 1273.0L332.8 1177.3L334.4 1219.8L336.0 1177.3L337.6 1197.5L339.2 1273.0L340.8 1391.6L342.4 1273.0L344.0 1244.8L345.6 1219.8L347.2 1141.9L348.8 1158.9L350.4 1219.8L352.0 1177.3L353.6 1344.3L355.2 1305.7L356.8 1197.5L358.4 1244.8L360.0 1244.8L361.6 1273.0L363.2 1305.7L364.8 1453.0L366.4 1177.3L368.0 1453.0L369.6 1111.6L371.1 1141.9L372.7 1273.0L374.3 1452.5L375.9 1344.3L377.5 1391.6L379.1 1158.9L380.7 1391.6L382.3 1305.7L383.9 1126.2L385.5 1344.3L387.1 1344.3L388.7 1244.8L390.3 1273.0L391.9 1344.3L393.5 1344.3L395.1 1305.7L396.7 1219.8L398.3 1391.6L399.9 1219.8L401.5 1197.5L403.1 1344.3L404.7 1391.6L406.3 1273.0L407.9 1197.5L409.5 1244.8L411.0 1305.7L412.6 1273.0L414.2 1391.6L415.8 1452.5L417.4 1344.3L419.0 1452.5L420.6 1453.0L422.2 1273.0L423.8 1244.8L425.4 1452.5L427.0 1273.0M430.2 1305.7L431.8 1453.0L433.4 1305.7L435.0 1391.6L436.6 1344.3L438.2 1391.6L439.8 1391.6L441.4 1305.7L443.0 1305.7L444.6 1305.7L446.2 1305.7L447.8 1244.8L449.4 1305.7L450.9 1391.6L452.5 1273.0L454.1 1197.5L455.7 1391.6L457.3 1452.5L458.9 1452.5L460.5 1244.8L462.1 1305.7L463.7 1197.5L465.3 1391.6L466.9 1305.7L468.5 1344.3L470.1 1391.6L471.7 1344.3L473.3 1453.0L474.9 1305.7L476.5 1344.3L478.1 1453.0L479.7 1453.0L481.3 1344.3L482.9 1219.8L484.5 1453.0L486.1 1305.7L487.7 1305.7M490.8 1305.7L492.4 1158.9L494.0 1391.6L495.6 1273.0L497.2 1158.9L498.8 1344.3L500.4 1244.8L502.0 1452.5L503.6 1391.6L505.2 1197.5L506.8 1273.0L508.4 1344.3L510.0 1391.6L511.6 1273.0L513.2 1391.6L514.8 1344.3L516.4 1219.8L518.0 1453.0L519.6 1244.8L521.2 1452.5L522.8 1453.0L524.4 1453.0L526.0 1391.6L527.6 1391.6L529.2 1344.3L530.7 1452.5L532.3 1391.6L533.9 1453.0L535.5 1453.0L537.1 1453.0L538.7 1273.0L540.3 1453.0L541.9 1244.8L543.5 1391.6L545.1 1453.0L546.7 1453.0L548.3 1391.6L549.9 1219.8L551.5 1273.0L553.1 1452.5L554.7 1344.3L556.3 1452.5L557.9 1344.3L559.5 1158.9L561.1 1453.0L562.7 1344.3L564.3 1391.6L565.9 1344.3L567.5 1391.6L569.1 1344.3L570.6 1273.0L572.2 1273.0L573.8 1453.0L575.4 1452.5L577.0 1305.7L578.6 1344.3L580.2 1453.0L581.8 1452.5L583.4 1453.0L585.0 1273.0L586.6 1244.8L588.2 1453.0L589.8 1391.6L591.4 1452.5L593.0 1391.6L594.6 1452.5L596.2 1453.0L597.8 1344.3L599.4 1452.5L601.0 1391.6L602.6 1391.6L604.2 1452.5M607.4 1244.8L609.0 1453.0L610.5 1273.0L612.1 1391.6L613.7 1452.5L615.3 1273.0L616.9 1453.0L618.5 1453.0L620.1 1244.8L621.7 1177.3L623.3 1219.8L624.9 1452.5L626.5 1391.6L628.1 1453.0L629.7 1391.6L631.3 1453.0L632.9 1391.6L634.5 1344.3L636.1 1453.0L637.7 1219.8L639.3 1453.0L640.9 1391.6L642.5 1453.0M645.7 1453.0L647.3 1453.0L648.9 1453.0L650.4 1453.0L652.0 1305.7M658.4 1391.6L660.0 1453.0L661.6 1452.5M664.8 1453.0L666.4 1453.0M671.2 1453.0L672.8 1305.7L674.4 1344.3L676.0 1453.0L677.6 1453.0L679.2 1344.3L680.8 1197.5L682.4 1391.6L684.0 1453.0L685.6 1344.3L687.2 1344.3L688.8 1391.6L690.3 1391.6L691.9 1452.5L693.5 1391.6L695.1 1453.0L696.7 1244.8L698.3 1453.0L699.9 1344.3L701.5 1452.5L703.1 1344.3M706.3 1391.6L707.9 1344.3L709.5 1453.0L711.1 1453.0L712.7 1344.3L714.3 1344.3L715.9 1453.0L717.5 1452.5L719.1 1391.6M722.3 1452.5L723.9 1453.0L725.5 1391.6L727.1 1453.0M731.8 1344.3L733.4 1391.6M736.6 1453.0M739.8 1453.0L741.4 1453.0L743.0 1391.6L744.6 1452.5L746.2 1391.6L747.8 1453.0M751.0 1273.0L752.6 1453.0L754.2 1453.0L755.8 1344.3M760.6 1452.5L762.2 1452.5L763.8 1452.5L765.4 1453.0L767.0 1453.0L768.6 1305.7L770.1 1453.0L771.7 1273.0L773.3 1344.3L774.9 1453.0L776.5 1452.5L778.1 1453.0L779.7 1453.0L781.3 1453.0L782.9 1344.3L784.5 1344.3L786.1 1453.0L787.7 1453.0M790.9 1453.0L792.5 1453.0L794.1 1273.0L795.7 1452.5L797.3 1453.0L798.9 1453.0M802.1 1452.5L803.7 1452.5L805.3 1453.0L806.9 1452.5L808.5 1452.5L810.0 1391.6L811.6 1453.0M814.8 1453.0L816.4 1453.0L818.0 1391.6L819.6 1391.6L821.2 1344.3L822.8 1453.0L824.4 1452.5M827.6 1219.8L829.2 1453.0M832.4 1391.6L834.0 1452.5L835.6 1453.0L837.2 1453.0L838.8 1453.0L840.4 1453.0M843.6 1244.8L845.2 1344.3L846.8 1453.0M849.9 1453.0L851.5 1453.0L853.1 1391.6M856.3 1453.0L857.9 1452.5L859.5 1453.0M864.3 1453.0L865.9 1453.0L867.5 1305.7M870.7 1452.5L872.3 1453.0L873.9 1453.0M880.3 1453.0L881.9 1453.0L883.5 1391.6M886.7 1453.0L888.3 1273.0L889.8 1452.5M894.6 1453.0M897.8 1453.0L899.4 1453.0M902.6 1453.0L904.2 1453.0L905.8 1453.0L907.4 1453.0L909.0 1453.0M912.2 1453.0L913.8 1344.3L915.4 1453.0M918.6 1452.5M921.8 1453.0M926.6 1344.3L928.2 1273.0L929.7 1453.0L931.3 1453.0M934.5 1305.7L936.1 1453.0L937.7 1453.0M940.9 1453.0L942.5 1452.5L944.1 1453.0M947.3 1453.0L948.9 1305.7L950.5 1391.6L952.1 1452.5M955.3 1391.6L956.9 1453.0L958.5 1453.0L960.1 1452.5L961.7 1453.0L963.3 1453.0L964.9 1453.0L966.5 1453.0L968.1 1344.3L969.6 1452.5L971.2 1453.0L972.8 1453.0L974.4 1452.5L976.0 1453.0L977.6 1453.0L979.2 1453.0L980.8 1453.0L982.4 1452.5L984.0 1453.0L985.6 1453.0L987.2 1453.0L988.8 1452.5L990.4 1391.6L992.0 1453.0M995.2 1344.3L996.8 1391.6L998.4 1453.0L1000.0 1452.5M1003.2 1391.6L1004.8 1453.0L1006.4 1453.0L1008.0 1453.0L1009.5 1453.0L1011.1 1453.0L1012.7 1453.0M1015.9 1453.0L1017.5 1453.0L1019.1 1453.0L1020.7 1453.0L1022.3 1453.0L1023.9 1453.0L1025.5 1452.5L1027.1 1452.5L1028.7 1452.5M1031.9 1452.5L1033.5 1452.5L1035.1 1452.5M1039.9 1453.0L1041.5 1453.0L1043.1 1453.0L1044.7 1453.0L1046.3 1197.5L1047.9 1452.5L1049.4 1452.5L1051.0 1452.5L1052.6 1453.0M1057.4 1453.0L1059.0 1453.0L1060.6 1453.0L1062.2 1453.0L1063.8 1391.6M1076.6 1452.5L1078.2 1453.0L1079.8 1244.8L1081.4 1453.0L1083.0 1273.0L1084.6 1452.5L1086.2 1453.0M1089.3 1453.0L1090.9 1453.0L1092.5 1452.5L1094.1 1453.0M1097.3 1452.5M1100.5 1244.8L1102.1 1453.0L1103.7 1453.0M1106.9 1391.6L1108.5 1453.0L1110.1 1453.0M1113.3 1452.5L1114.9 1344.3L1116.5 1453.0M1121.3 1452.5L1122.9 1391.6L1124.5 1452.5M1129.2 1453.0M1132.4 1452.5L1134.0 1452.5L1135.6 1344.3M1138.8 1391.6L1140.4 1453.0L1142.0 1452.5L1143.6 1452.5M1146.8 1453.0L1148.4 1452.5M1151.6 1453.0L1153.2 1453.0L1154.8 1452.5M1158.0 1305.7L1159.6 1453.0L1161.2 1453.0L1162.8 1453.0L1164.4 1452.5M1167.6 1453.0M1172.3 1453.0M1175.5 1452.5L1177.1 1453.0L1178.7 1452.5M1181.9 1453.0L1183.5 1453.0L1185.1 1391.6L1186.7 1453.0L1188.3 1453.0L1189.9 1453.0M1196.3 1453.0L1197.9 1453.0L1199.5 1453.0M1202.7 1453.0M1205.9 1453.0L1207.5 1453.0L1209.0 1452.5L1210.6 1453.0M1213.8 1453.0M1218.6 1453.0L1220.2 1391.6L1221.8 1453.0L1223.4 1452.5M1226.6 1453.0L1228.2 1453.0L1229.8 1453.0L1231.4 1453.0L1233.0 1391.6L1234.6 1453.0L1236.2 1453.0L1237.8 1453.0M1241.0 1453.0L1242.6 1453.0L1244.2 1452.5M1250.5 1453.0L1252.1 1452.5L1253.7 1453.0L1255.3 1453.0L1256.9 1305.7M1260.1 1453.0L1261.7 1344.3M1264.9 1453.0L1266.5 1453.0L1268.1 1452.5L1269.7 1452.5M1274.5 1453.0L1276.1 1305.7L1277.7 1453.0L1279.3 1453.0L1280.9 1344.3M1284.1 1453.0M1288.8 1453.0M1292.0 1453.0L1293.6 1453.0L1295.2 1453.0M1298.4 1453.0L1300.0 1453.0L1301.6 1452.5L1303.2 1453.0M1306.4 1453.0M1309.6 1391.6M1314.4 1452.5M1317.6 1452.5M1322.4 1453.0L1324.0 1453.0L1325.6 1453.0M1331.9 1453.0L1333.5 1452.5L1335.1 1305.7L1336.7 1453.0L1338.3 1453.0M1341.5 1453.0L1343.1 1453.0M1346.3 1453.0L1347.9 1453.0L1349.5 1453.0L1351.1 1453.0L1352.7 1453.0L1354.3 1391.6L1355.9 1453.0M1360.7 1453.0L1362.3 1453.0M1371.8 1453.0L1373.4 1453.0L1375.0 1453.0M1383.0 1452.5L1384.6 1453.0L1386.2 1452.5L1387.8 1452.5L1389.4 1391.6L1391.0 1452.5L1392.6 1453.0L1394.2 1453.0M1397.4 1305.7M1403.8 1453.0L1405.4 1452.5L1407.0 1453.0L1408.5 1453.0M1411.7 1453.0L1413.3 1391.6M1416.5 1453.0M1419.7 1391.6M1422.9 1453.0L1424.5 1453.0L1426.1 1453.0M1430.9 1453.0L1432.5 1453.0L1434.1 1391.6M1437.3 1453.0L1438.9 1453.0M1446.9 1453.0M1451.6 1453.0L1453.2 1453.0L1454.8 1453.0L1456.4 1453.0M1459.6 1452.5M1462.8 1453.0L1464.4 1453.0M1467.6 1453.0M1470.8 1453.0L1472.4 1453.0M1475.6 1344.3M1480.4 1453.0M1483.6 1453.0L1485.2 1453.0L1486.8 1273.0M1489.9 1391.6L1491.5 1453.0M1494.7 1453.0L1496.3 1391.6L1497.9 1453.0M1501.1 1273.0L1502.7 1452.5L1504.3 1453.0L1505.9 1453.0L1507.5 1453.0L1509.1 1453.0L1510.7 1453.0M1513.9 1453.0L1515.5 1453.0M1518.7 1453.0M1523.5 1453.0L1525.1 1453.0L1526.7 1453.0L1528.2 1453.0L1529.8 1453.0M1533.0 1453.0L1534.6 1453.0L1536.2 1453.0M1539.4 1453.0L1541.0 1453.0L1542.6 1453.0M1547.4 1453.0L1549.0 1453.0L1550.6 1453.0M1553.8 1453.0L1555.4 1453.0L1557.0 1453.0L1558.6 1453.0L1560.2 1452.5M1565.0 1453.0L1566.6 1453.0M1569.7 1453.0M1572.9 1453.0M1577.7 1453.0L1579.3 1452.5M1582.5 1453.0L1584.1 1344.3L1585.7 1453.0L1587.3 1391.6L1588.9 1453.0M1592.1 1453.0L1593.7 1453.0L1595.3 1391.6M1598.5 1453.0M1604.9 1452.5L1606.5 1453.0L1608.0 1453.0M1611.2 1453.0L1612.8 1453.0L1614.4 1452.5L1616.0 1452.5M1620.8 1453.0L1622.4 1453.0L1624.0 1452.5L1625.6 1453.0L1627.2 1453.0L1628.8 1452.5M1632.0 1453.0M1635.2 1453.0L1636.8 1391.6L1638.4 1453.0M1641.6 1453.0L1643.2 1344.3L1644.8 1453.0M1647.9 1453.0L1649.5 1452.5L1651.1 1452.5L1652.7 1452.5M1655.9 1452.5L1657.5 1452.5M1663.9 1344.3L1665.5 1453.0M1668.7 1453.0L1670.3 1391.6L1671.9 1453.0L1673.5 1453.0L1675.1 1453.0L1676.7 1452.5L1678.3 1452.5L1679.9 1453.0M1683.1 1452.5L1684.7 1453.0L1686.3 1452.5L1687.8 1453.0L1689.4 1453.0L1691.0 1452.5L1692.6 1453.0L1694.2 1453.0M1697.4 1453.0M1700.6 1391.6M1703.8 1452.5L1705.4 1391.6M1710.2 1452.5M1713.4 1344.3L1715.0 1344.3L1716.6 1453.0L1718.2 1453.0M1721.4 1453.0L1723.0 1391.6L1724.6 1453.0L1726.2 1453.0L1727.7 1453.0M1730.9 1453.0L1732.5 1453.0L1734.1 1453.0L1735.7 1452.5M1738.9 1453.0M1742.1 1453.0L1743.7 1453.0L1745.3 1453.0L1746.9 1453.0L1748.5 1452.5L1750.1 1453.0L1751.7 1452.5M1756.5 1453.0M1759.7 1391.6M1762.9 1453.0M1766.1 1452.5M1770.8 1391.6M1774.0 1453.0L1775.6 1344.3M1780.4 1453.0L1782.0 1453.0M1785.2 1453.0L1786.8 1305.7L1788.4 1452.5L1790.0 1453.0L1791.6 1453.0L1793.2 1391.6L1794.8 1452.5L1796.4 1453.0L1798.0 1453.0M1801.2 1453.0L1802.8 1453.0L1804.4 1453.0M1807.5 1453.0M1810.7 1452.5M1815.5 1453.0M1823.5 1453.0M1828.3 1453.0L1829.9 1453.0L1831.5 1452.5L1833.1 1453.0M1836.3 1453.0L1837.9 1453.0M1841.1 1197.5L1842.7 1453.0L1844.3 1453.0L1845.9 1453.0M1849.0 1453.0L1850.6 1453.0M1863.4 1344.3L1865.0 1453.0M1873.0 1453.0L1874.6 1453.0L1876.2 1453.0L1877.8 1453.0M1881.0 1453.0L1882.6 1453.0M1885.8 1391.6L1887.3 1453.0L1888.9 1453.0M1892.1 1344.3M1895.3 1453.0L1896.9 1453.0L1898.5 1391.6L1900.1 1453.0M1903.3 1453.0L1904.9 1453.0L1906.5 1453.0M1909.7 1453.0L1911.3 1453.0L1912.9 1453.0L1914.5 1453.0L1916.1 1453.0L1917.7 1305.7L1919.3 1453.0L1920.9 1453.0L1922.5 1453.0M1927.2 1453.0L1928.8 1453.0L1930.4 1453.0M1933.6 1452.5L1935.2 1453.0L1936.8 1453.0L1938.4 1452.5M1941.6 1273.0L1943.2 1391.6L1944.8 1453.0M1948.0 1453.0L1949.6 1453.0M1956.0 1391.6M1960.8 1453.0L1962.4 1453.0L1964.0 1453.0L1965.6 1453.0M1968.7 1453.0M1975.1 1344.3M1981.5 1453.0M1987.9 1453.0L1989.5 1453.0L1991.1 1453.0L1992.7 1452.5L1994.3 1453.0L1995.9 1305.7L1997.5 1452.5M2000.7 1453.0L2002.3 1453.0L2003.9 1453.0L2005.5 1452.5L2007.0 1453.0L2008.6 1453.0M2011.8 1453.0M2015.0 1452.5L2016.6 1391.6L2018.2 1453.0M2021.4 1453.0L2023.0 1453.0L2024.6 1453.0L2026.2 1453.0L2027.8 1344.3L2029.4 1452.5L2031.0 1452.5L2032.6 1453.0M2042.2 1452.5L2043.8 1453.0L2045.4 1453.0M2048.5 1391.6L2050.1 1453.0M2056.5 1453.0M2059.7 1453.0L2061.3 1452.5L2062.9 1453.0M2067.7 1453.0L2069.3 1453.0L2070.9 1452.5L2072.5 1453.0L2074.1 1453.0L2075.7 1453.0M2086.8 1391.6M2091.6 1453.0M2094.8 1453.0L2096.4 1453.0L2098.0 1391.6L2099.6 1453.0L2101.2 1452.5M2104.4 1344.3L2106.0 1273.0" stroke="#ff00ff" stroke-width="11" fill="none" stroke-linejoin="round" stroke-linecap="butt"/>
</g>
<text x="190.8" y="1487" font-family="Liberation Serif" font-size="85" text-anchor="middle">0</text>
<text x="430.2" y="1487" font-family="Liberation Serif" font-size="85" text-anchor="middle">1</text>
<text x="669.6" y="1487" font-family="Liberation Serif" font-size="85" text-anchor="middle">2</text>
<text x="909.0" y="1487" font-family="Liberation Serif" font-size="85" text-anchor="middle">3</text>
<text x="1148.4" y="1487" font-family="Liberation Serif" font-size="85" text-anchor="middle">4</text>
<text x="1387.8" y="1487" font-family="Liberation Serif" font-size="85" text-anchor="middle">5</text>
<text x="1627.2" y="1487" font-family="Liberation Serif" font-size="85" text-anchor="middle">6</text>
<text x="1866.6" y="1487" font-family="Liberation Serif" font-size="85" text-anchor="middle">7</text>
<text x="2106.0" y="1487" font-family="Liberation Serif" font-size="85" text-anchor="middle">8</text>
<text x="1108.7" y="1617" font-family="Liberation Serif" font-weight="bold" font-size="120" text-anchor="middle" textLength="454" lengthAdjust="spacingAndGlyphs">Time/ms</text>
<text transform="translate(131 698) rotate(-90)" x="0" y="0" font-family="Liberation Serif" font-weight="bold" font-size="124" text-anchor="middle">Intensity (a.u.)</text>
<line x1="410" y1="124.4" x2="569" y2="124.4" stroke="#000000" stroke-width="10" stroke-linecap="round"/>
<text x="592" y="148.5" font-family="Liberation Serif" font-weight="bold" font-size="85" textLength="268.1" lengthAdjust="spacingAndGlyphs">x = 0.01</text>
<line x1="410" y1="228" x2="569" y2="228" stroke="#e30b0b" stroke-width="10" stroke-linecap="round"/>
<text x="592" y="251.5" font-family="Liberation Serif" font-weight="bold" font-size="85" textLength="268.1" lengthAdjust="spacingAndGlyphs">x = 0.03</text>
<line x1="410" y1="331.5" x2="569" y2="331.5" stroke="#0a0ae6" stroke-width="10" stroke-linecap="round"/>
<text x="592" y="354.5" font-family="Liberation Serif" font-weight="bold" font-size="85" textLength="268.1" lengthAdjust="spacingAndGlyphs">x = 0.06</text>
<line x1="410" y1="435" x2="569" y2="435" stroke="#167a70" stroke-width="10" stroke-linecap="round"/>
<text x="592" y="457.5" font-family="Liberation Serif" font-weight="bold" font-size="85" textLength="227.7" lengthAdjust="spacingAndGlyphs">x = 0.1</text>
<line x1="410" y1="538.5" x2="569" y2="538.5" stroke="#ee10ee" stroke-width="10" stroke-linecap="round"/>
<text x="592" y="560.5" font-family="Liberation Serif" font-weight="bold" font-size="85" textLength="227.7" lengthAdjust="spacingAndGlyphs">x = 0.2</text>
<rect x="1187.1" y="79.8" width="883.2" height="645.5" fill="#fff" stroke="none"/>
<line x1="1187.1" y1="79.8" x2="2070.3" y2="79.8" stroke="#8c8c8c" stroke-width="4.8"/>
<line x1="1187.1" y1="725.3" x2="2070.3" y2="725.3" stroke="#8c8c8c" stroke-width="4.8"/>
<line x1="1187.1" y1="77.39999999999999" x2="1187.1" y2="727.6999999999999" stroke="#2a2a2a" stroke-width="3.2"/>
<line x1="2070.3" y1="77.39999999999999" x2="2070.3" y2="727.6999999999999" stroke="#333" stroke-width="3.2"/>
<path d="M1187.1 671.1h13 M1187.1 617.2h7 M1187.1 563.4h13 M1187.1 509.5h7 M1187.1 455.6h13 M1187.1 401.8h7 M1187.1 347.9h13 M1187.1 294.0h7 M1187.1 240.1h13 M1187.1 186.3h7 M1187.1 132.4h13 M1208.4 725.3v-15 M1308.4 725.3v-7 M1408.4 725.3v-15 M1508.4 725.3v-7 M1608.4 725.3v-15 M1708.4 725.3v-7 M1808.4 725.3v-15 M1908.4 725.3v-7 M2008.4 725.3v-15" stroke="#111" stroke-width="3.2" fill="none"/>
<text x="1173" y="689.1" font-family="Liberation Serif" font-weight="bold" font-size="58" text-anchor="end" textLength="69.6" lengthAdjust="spacingAndGlyphs">0.0</text>
<text x="1173" y="581.4" font-family="Liberation Serif" font-weight="bold" font-size="58" text-anchor="end" textLength="69.6" lengthAdjust="spacingAndGlyphs">0.2</text>
<text x="1173" y="473.6" font-family="Liberation Serif" font-weight="bold" font-size="58" text-anchor="end" textLength="69.6" lengthAdjust="spacingAndGlyphs">0.4</text>
<text x="1173" y="365.9" font-family="Liberation Serif" font-weight="bold" font-size="58" text-anchor="end" textLength="69.6" lengthAdjust="spacingAndGlyphs">0.6</text>
<text x="1173" y="258.1" font-family="Liberation Serif" font-weight="bold" font-size="58" text-anchor="end" textLength="69.6" lengthAdjust="spacingAndGlyphs">0.8</text>
<text x="1173" y="150.4" font-family="Liberation Serif" font-weight="bold" font-size="58" text-anchor="end" textLength="69.6" lengthAdjust="spacingAndGlyphs">1.0</text>
<text x="1206.9" y="783" font-family="Liberation Serif" font-weight="bold" font-size="57.5" text-anchor="middle" textLength="97.6" lengthAdjust="spacingAndGlyphs">0.00</text>
<text x="1406.9" y="783" font-family="Liberation Serif" font-weight="bold" font-size="57.5" text-anchor="middle" textLength="97.6" lengthAdjust="spacingAndGlyphs">0.05</text>
<text x="1606.9" y="783" font-family="Liberation Serif" font-weight="bold" font-size="57.5" text-anchor="middle" textLength="97.6" lengthAdjust="spacingAndGlyphs">0.10</text>
<text x="1806.9" y="783" font-family="Liberation Serif" font-weight="bold" font-size="57.5" text-anchor="middle" textLength="97.6" lengthAdjust="spacingAndGlyphs">0.15</text>
<text x="2006.9" y="783" font-family="Liberation Serif" font-weight="bold" font-size="57.5" text-anchor="middle" textLength="97.6" lengthAdjust="spacingAndGlyphs">0.20</text>
<text x="1619.7" y="862" font-family="Liberation Serif" font-size="54.5" text-anchor="middle" textLength="35.4" lengthAdjust="spacingAndGlyphs">X</text>
<text transform="translate(1074.6 411.8) rotate(-90)" font-family="Liberation Serif" font-weight="bold" font-size="57" text-anchor="middle">Lifetime (ms)</text>
<path d="M1258.0 161.9L1318.8 280.7 M1339.9 317.0L1436.9 465.0 M1466.6 493.0L1590.2 563.7 M1628.9 578.6L1987.9 655.9" stroke="#e2141a" stroke-width="7" stroke-linecap="round" fill="none"/>
<rect x="1233.7" y="128.7" width="29.4" height="29" fill="#000"/>
<rect x="1313.7" y="284.9" width="29.4" height="29" fill="#000"/>
<rect x="1433.7" y="468.1" width="29.4" height="29" fill="#000"/>
<rect x="1593.7" y="559.6" width="29.4" height="29" fill="#000"/>
<rect x="1993.7" y="645.8" width="29.4" height="29" fill="#000"/>
</svg>
</body></html>
